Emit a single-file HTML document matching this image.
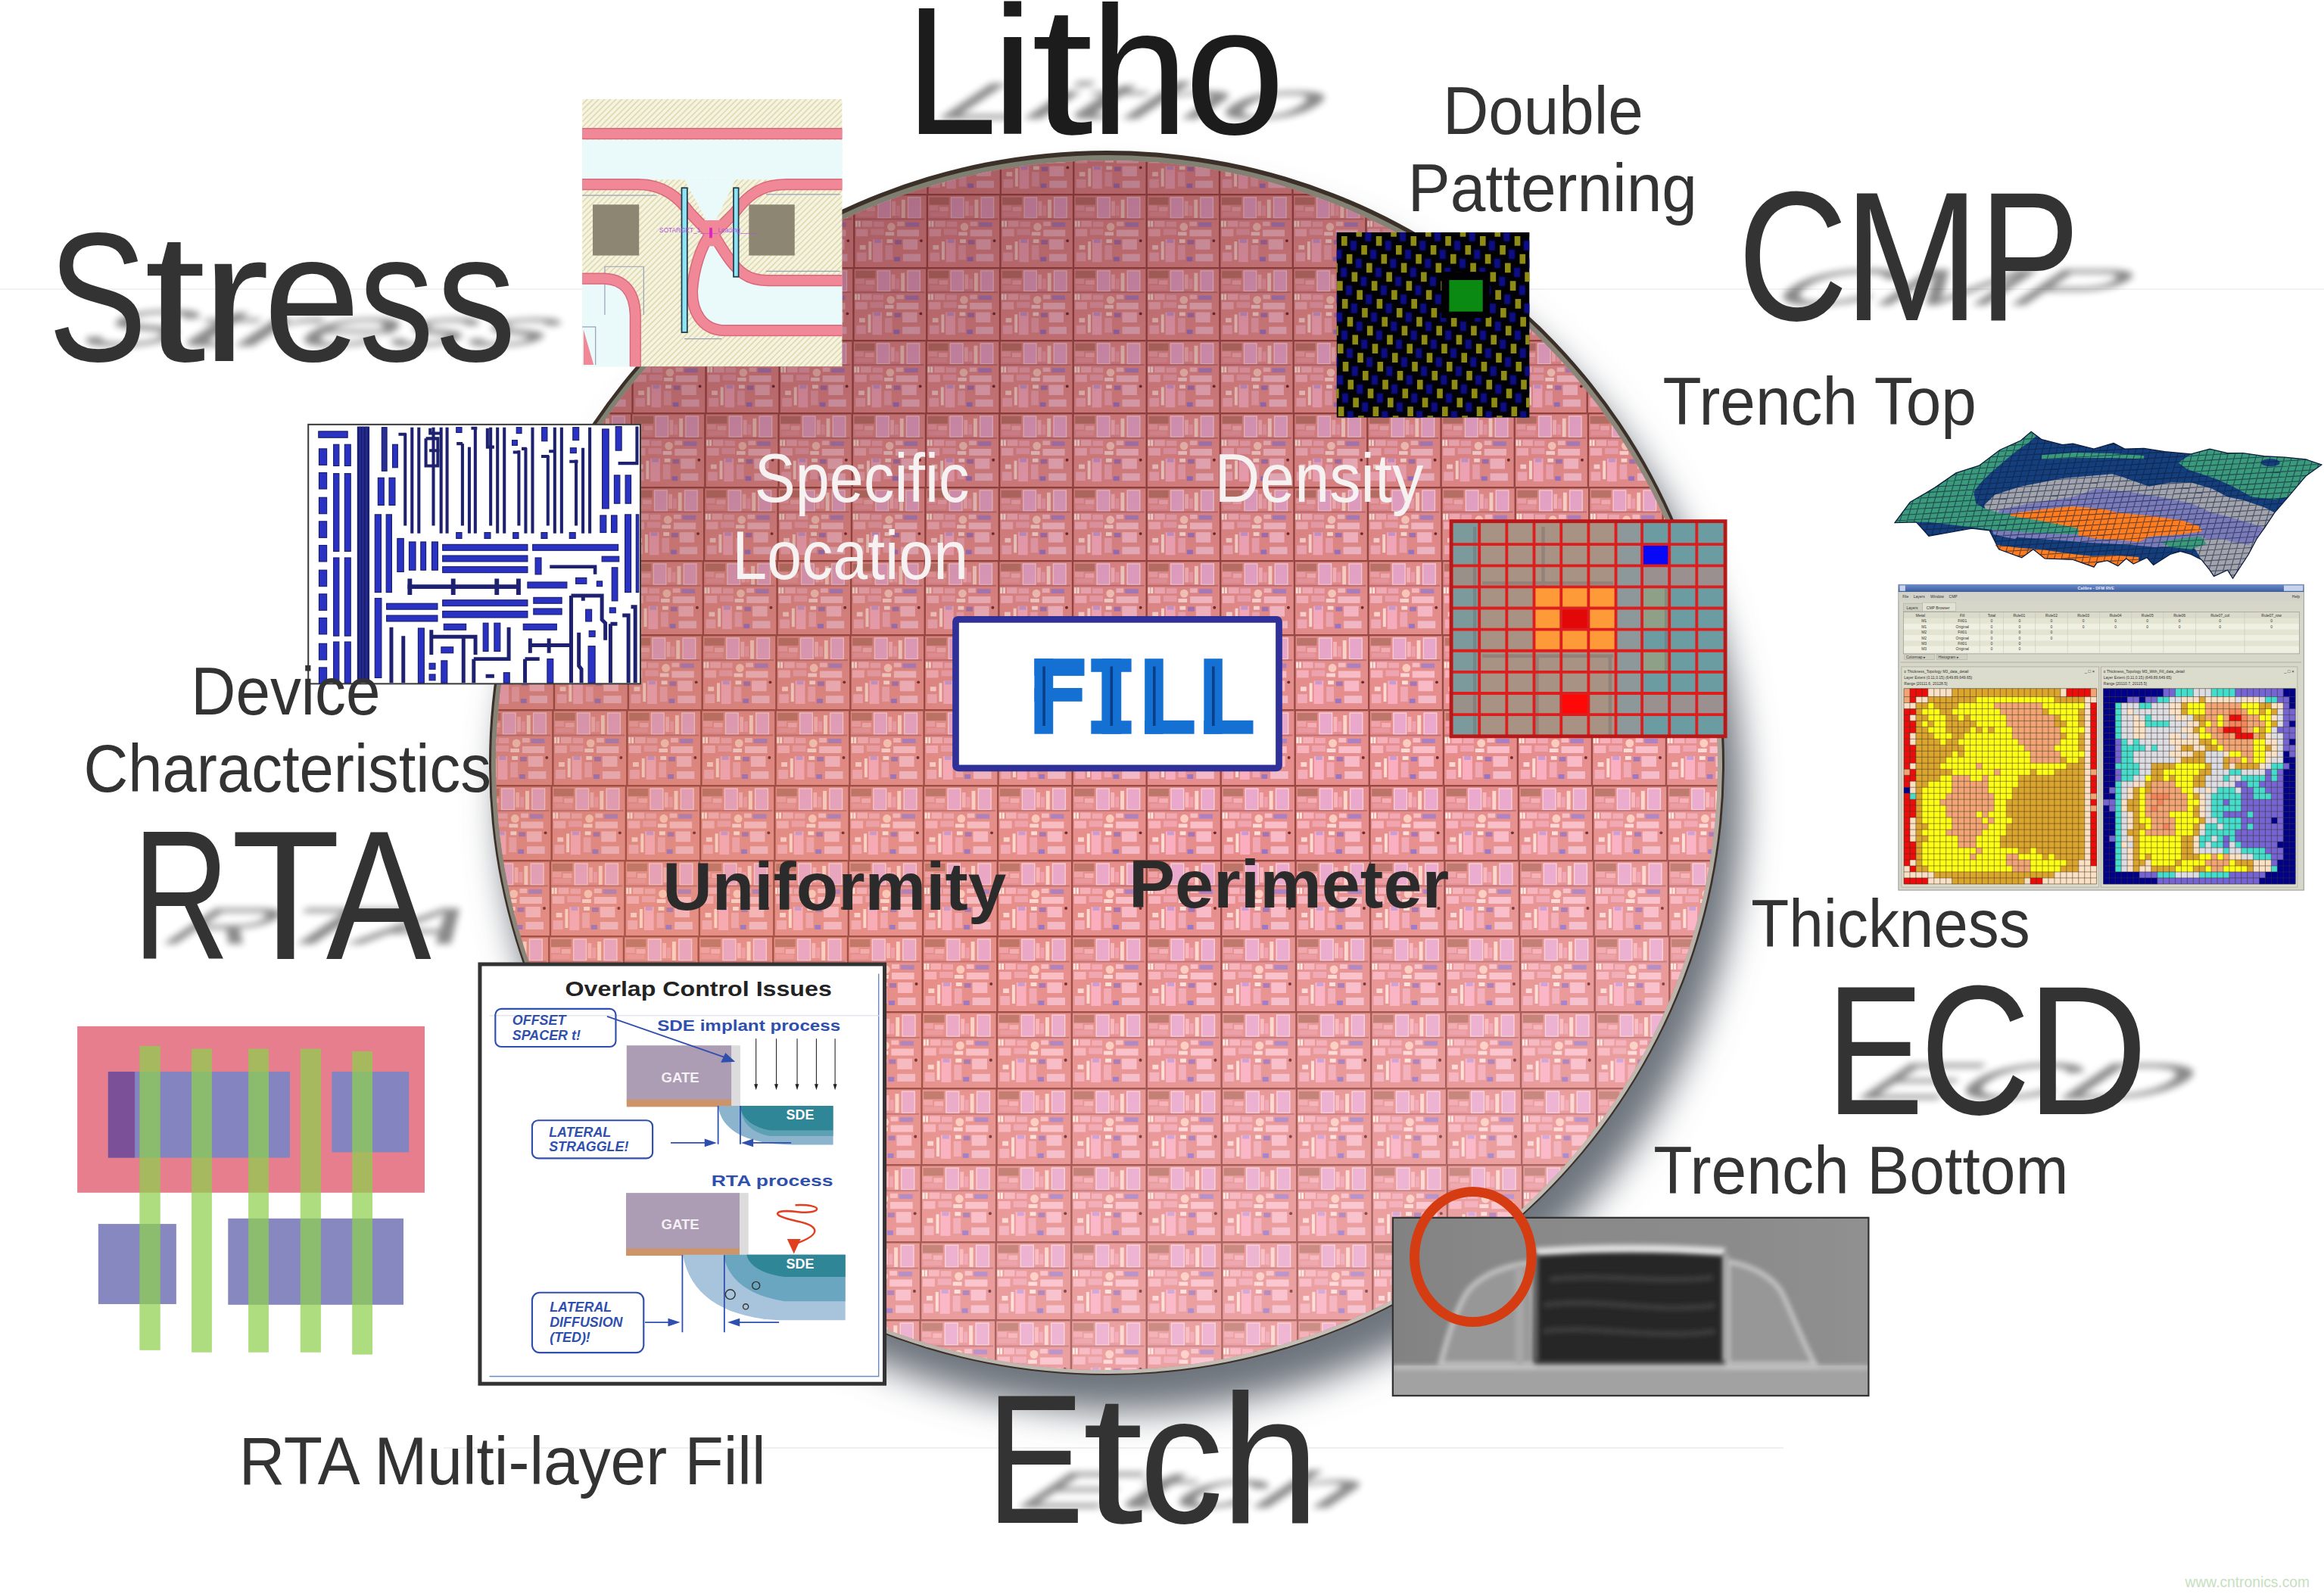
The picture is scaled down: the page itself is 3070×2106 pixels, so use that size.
<!DOCTYPE html><html><head><meta charset="utf-8"><title>Fill</title><style>html,body{margin:0;padding:0;background:#fff;overflow:hidden}svg{display:block}text{font-family:"Liberation Sans",sans-serif}</style></head><body><svg width="3070" height="2106" viewBox="0 0 3070 2106" font-family="'Liberation Sans', sans-serif"><defs><filter id="wsh" x="-20%" y="-20%" width="140%" height="140%"><feGaussianBlur stdDeviation="24"/></filter>
<clipPath id="wclip"><ellipse cx="1462" cy="1011" rx="807" ry="799"/></clipPath>
<linearGradient id="bev" x1="0.25" y1="0" x2="0.75" y2="1"><stop offset="0" stop-color="#7c7e70"/><stop offset="0.5" stop-color="#8e887c"/><stop offset="0.8" stop-color="#b8b2aa"/><stop offset="1" stop-color="#c8c4bc"/></linearGradient>
<g id="die">
<rect width="100" height="100" fill="#e68d8c"/>
<rect x="4" y="5" width="27" height="10" fill="#bc7468"/>
<rect x="4" y="16" width="12" height="7" fill="#f0a2aa"/><rect x="18" y="18" width="12" height="6" fill="#f4aeb4"/>
<rect x="5" y="25" width="24" height="6" fill="#ea98a0"/>
<rect x="34" y="5" width="17" height="28" fill="#eaa8cc" stroke="#fad0d8" stroke-width="1.4"/>
<rect x="53" y="10" width="5" height="20" fill="#f8b4bc"/><rect x="59" y="16" width="5" height="14" fill="#f0a0b0"/>
<rect x="66" y="8" width="5" height="25" fill="#fdd6cc"/>
<rect x="75" y="5" width="17" height="28" fill="#eaa8cc" stroke="#fad0d8" stroke-width="1.4"/>
<rect x="2" y="33.5" width="96" height="2" fill="#c06e74"/>
<rect x="3" y="37" width="3" height="8" fill="#fee8e0"/><rect x="7" y="37" width="3" height="8" fill="#fee8e0"/>
<rect x="12" y="37" width="14" height="8" fill="#f6b0ba"/>
<rect x="28" y="38" width="14" height="7" fill="#f2a8b4"/>
<circle cx="52" cy="45" r="5.5" fill="#fdccc0"/>
<rect x="60" y="38" width="10" height="6" fill="#f8bcc4"/>
<rect x="72" y="39" width="18" height="6" fill="#aa80c2"/>
<rect x="4" y="48" width="16" height="10" fill="#f8b2bc"/>
<rect x="24" y="48" width="18" height="8" fill="#f0a4b0"/>
<rect x="44" y="52" width="12" height="5" fill="#fed8d4"/>
<rect x="60" y="49" width="30" height="9" fill="#fabec8"/>
<rect x="27" y="62" width="13" height="31" fill="#faaec0"/>
<rect x="29" y="62" width="9" height="5" fill="#c89ad4"/>
<rect x="21" y="65" width="4" height="25" fill="#fedcd4"/>
<rect x="57" y="63" width="9" height="6" fill="#a474b4"/>
<rect x="68" y="62" width="20" height="14" fill="#f8bac6"/>
<rect x="5" y="80" width="13" height="12" fill="#f4acb8"/>
<rect x="44" y="70" width="10" height="20" fill="#f2a8b4"/>
<rect x="56" y="86" width="8" height="6" fill="#9874c6"/>
<rect x="68" y="82" width="24" height="10" fill="#f4bac8"/>
<rect x="9" y="70" width="8" height="6" fill="#fed6d2"/>
<rect x="46" y="62" width="8" height="5" fill="#fee0da"/>
<circle cx="93" cy="64" r="2" fill="#6a2a2a"/>
<rect x="0" y="0" width="100" height="2.4" fill="#98463f"/>
<rect x="0" y="0" width="2.4" height="100" fill="#98463f"/>
</g>
<linearGradient id="wgrad" x1="0.3" y1="0" x2="0.7" y2="1"><stop offset="0" stop-color="#5a1e2a" stop-opacity="0.46"/><stop offset="0.4" stop-color="#5a1e2a" stop-opacity="0.08"/><stop offset="0.6" stop-color="#ffffff" stop-opacity="0"/><stop offset="1" stop-color="#ffe4ec" stop-opacity="0.26"/></linearGradient>
<radialGradient id="wgrad2" cx="0.12" cy="0.6" r="0.45"><stop offset="0" stop-color="#f09858" stop-opacity="0.16"/><stop offset="1" stop-color="#f09858" stop-opacity="0"/></radialGradient>
<filter id="tb" x="-10%" y="-50%" width="120%" height="200%"><feGaussianBlur stdDeviation="5"/></filter>
<pattern id="hatch" patternUnits="userSpaceOnUse" width="22" height="22" patternTransform="rotate(45)"><rect width="22" height="22" fill="#f6f4e0"/><rect width="7" height="22" fill="#dedab0"/></pattern>
<filter id="dpb" filterUnits="userSpaceOnUse" x="0" y="0" width="1800" height="1700"><feGaussianBlur stdDeviation="6"/></filter>
<filter id="semb" filterUnits="userSpaceOnUse" x="0" y="100" width="2400" height="1000"><feGaussianBlur stdDeviation="12"/></filter>
<linearGradient id="semgrad" x1="0" y1="0" x2="1" y2="0"><stop offset="0" stop-color="#7a7a7a" stop-opacity="0.5"/><stop offset="0.5" stop-color="#8a8a8a" stop-opacity="0"/><stop offset="1" stop-color="#9a9a9a" stop-opacity="0.4"/></linearGradient></defs><rect width="3070" height="2106" fill="#ffffff"/>
<rect x="0" y="381" width="3070" height="2" fill="#f2f2f2"/>
<rect x="586" y="1912" width="1770" height="2" fill="#f0f0f0"/>
<ellipse cx="1482" cy="1056" rx="820" ry="809" fill="#6e757d" filter="url(#wsh)"/>
<ellipse cx="1462" cy="1008" rx="816" ry="809" fill="#3b3129"/>
<ellipse cx="1462" cy="1010" rx="813" ry="805" fill="url(#bev)"/>
<g clip-path="url(#wclip)">
<rect x="600" y="150" width="1720" height="1720" fill="#cc8088"/>
<use href="#die" transform="translate(549.4 160.0) scale(0.9641 0.9600)"/>
<use href="#die" transform="translate(645.8 160.0) scale(0.9641 0.9600)"/>
<use href="#die" transform="translate(742.2 160.0) scale(0.9641 0.9600)"/>
<use href="#die" transform="translate(838.7 160.0) scale(0.9641 0.9600)"/>
<use href="#die" transform="translate(935.1 160.0) scale(0.9641 0.9600)"/>
<use href="#die" transform="translate(1031.5 160.0) scale(0.9641 0.9600)"/>
<use href="#die" transform="translate(1127.9 160.0) scale(0.9641 0.9600)"/>
<use href="#die" transform="translate(1224.3 160.0) scale(0.9641 0.9600)"/>
<use href="#die" transform="translate(1320.7 160.0) scale(0.9641 0.9600)"/>
<use href="#die" transform="translate(1417.1 160.0) scale(0.9641 0.9600)"/>
<use href="#die" transform="translate(1513.5 160.0) scale(0.9641 0.9600)"/>
<use href="#die" transform="translate(1609.9 160.0) scale(0.9641 0.9600)"/>
<use href="#die" transform="translate(1706.3 160.0) scale(0.9641 0.9600)"/>
<use href="#die" transform="translate(1802.7 160.0) scale(0.9641 0.9600)"/>
<use href="#die" transform="translate(1899.1 160.0) scale(0.9641 0.9600)"/>
<use href="#die" transform="translate(1995.5 160.0) scale(0.9641 0.9600)"/>
<use href="#die" transform="translate(2091.9 160.0) scale(0.9641 0.9600)"/>
<use href="#die" transform="translate(2188.3 160.0) scale(0.9641 0.9600)"/>
<use href="#die" transform="translate(547.4 256.0) scale(0.9661 0.9700)"/>
<use href="#die" transform="translate(644.0 256.0) scale(0.9661 0.9700)"/>
<use href="#die" transform="translate(740.6 256.0) scale(0.9661 0.9700)"/>
<use href="#die" transform="translate(837.2 256.0) scale(0.9661 0.9700)"/>
<use href="#die" transform="translate(933.8 256.0) scale(0.9661 0.9700)"/>
<use href="#die" transform="translate(1030.5 256.0) scale(0.9661 0.9700)"/>
<use href="#die" transform="translate(1127.1 256.0) scale(0.9661 0.9700)"/>
<use href="#die" transform="translate(1223.7 256.0) scale(0.9661 0.9700)"/>
<use href="#die" transform="translate(1320.3 256.0) scale(0.9661 0.9700)"/>
<use href="#die" transform="translate(1416.9 256.0) scale(0.9661 0.9700)"/>
<use href="#die" transform="translate(1513.5 256.0) scale(0.9661 0.9700)"/>
<use href="#die" transform="translate(1610.1 256.0) scale(0.9661 0.9700)"/>
<use href="#die" transform="translate(1706.7 256.0) scale(0.9661 0.9700)"/>
<use href="#die" transform="translate(1803.3 256.0) scale(0.9661 0.9700)"/>
<use href="#die" transform="translate(1899.9 256.0) scale(0.9661 0.9700)"/>
<use href="#die" transform="translate(1996.5 256.0) scale(0.9661 0.9700)"/>
<use href="#die" transform="translate(2093.2 256.0) scale(0.9661 0.9700)"/>
<use href="#die" transform="translate(2189.8 256.0) scale(0.9661 0.9700)"/>
<use href="#die" transform="translate(545.4 353.0) scale(0.9681 0.9600)"/>
<use href="#die" transform="translate(642.2 353.0) scale(0.9681 0.9600)"/>
<use href="#die" transform="translate(739.0 353.0) scale(0.9681 0.9600)"/>
<use href="#die" transform="translate(835.8 353.0) scale(0.9681 0.9600)"/>
<use href="#die" transform="translate(932.6 353.0) scale(0.9681 0.9600)"/>
<use href="#die" transform="translate(1029.4 353.0) scale(0.9681 0.9600)"/>
<use href="#die" transform="translate(1126.3 353.0) scale(0.9681 0.9600)"/>
<use href="#die" transform="translate(1223.1 353.0) scale(0.9681 0.9600)"/>
<use href="#die" transform="translate(1319.9 353.0) scale(0.9681 0.9600)"/>
<use href="#die" transform="translate(1416.7 353.0) scale(0.9681 0.9600)"/>
<use href="#die" transform="translate(1513.5 353.0) scale(0.9681 0.9600)"/>
<use href="#die" transform="translate(1610.3 353.0) scale(0.9681 0.9600)"/>
<use href="#die" transform="translate(1707.1 353.0) scale(0.9681 0.9600)"/>
<use href="#die" transform="translate(1803.9 353.0) scale(0.9681 0.9600)"/>
<use href="#die" transform="translate(1900.7 353.0) scale(0.9681 0.9600)"/>
<use href="#die" transform="translate(1997.6 353.0) scale(0.9681 0.9600)"/>
<use href="#die" transform="translate(2094.4 353.0) scale(0.9681 0.9600)"/>
<use href="#die" transform="translate(2191.2 353.0) scale(0.9681 0.9600)"/>
<use href="#die" transform="translate(640.4 449.0) scale(0.9701 0.9600)"/>
<use href="#die" transform="translate(737.4 449.0) scale(0.9701 0.9600)"/>
<use href="#die" transform="translate(834.4 449.0) scale(0.9701 0.9600)"/>
<use href="#die" transform="translate(931.4 449.0) scale(0.9701 0.9600)"/>
<use href="#die" transform="translate(1028.4 449.0) scale(0.9701 0.9600)"/>
<use href="#die" transform="translate(1125.4 449.0) scale(0.9701 0.9600)"/>
<use href="#die" transform="translate(1222.5 449.0) scale(0.9701 0.9600)"/>
<use href="#die" transform="translate(1319.5 449.0) scale(0.9701 0.9600)"/>
<use href="#die" transform="translate(1416.5 449.0) scale(0.9701 0.9600)"/>
<use href="#die" transform="translate(1513.5 449.0) scale(0.9701 0.9600)"/>
<use href="#die" transform="translate(1610.5 449.0) scale(0.9701 0.9600)"/>
<use href="#die" transform="translate(1707.5 449.0) scale(0.9701 0.9600)"/>
<use href="#die" transform="translate(1804.5 449.0) scale(0.9701 0.9600)"/>
<use href="#die" transform="translate(1901.6 449.0) scale(0.9701 0.9600)"/>
<use href="#die" transform="translate(1998.6 449.0) scale(0.9701 0.9600)"/>
<use href="#die" transform="translate(2095.6 449.0) scale(0.9701 0.9600)"/>
<use href="#die" transform="translate(2192.6 449.0) scale(0.9701 0.9600)"/>
<use href="#die" transform="translate(638.5 545.0) scale(0.9722 0.9800)"/>
<use href="#die" transform="translate(735.8 545.0) scale(0.9722 0.9800)"/>
<use href="#die" transform="translate(833.0 545.0) scale(0.9722 0.9800)"/>
<use href="#die" transform="translate(930.2 545.0) scale(0.9722 0.9800)"/>
<use href="#die" transform="translate(1027.4 545.0) scale(0.9722 0.9800)"/>
<use href="#die" transform="translate(1124.6 545.0) scale(0.9722 0.9800)"/>
<use href="#die" transform="translate(1221.8 545.0) scale(0.9722 0.9800)"/>
<use href="#die" transform="translate(1319.1 545.0) scale(0.9722 0.9800)"/>
<use href="#die" transform="translate(1416.3 545.0) scale(0.9722 0.9800)"/>
<use href="#die" transform="translate(1513.5 545.0) scale(0.9722 0.9800)"/>
<use href="#die" transform="translate(1610.7 545.0) scale(0.9722 0.9800)"/>
<use href="#die" transform="translate(1707.9 545.0) scale(0.9722 0.9800)"/>
<use href="#die" transform="translate(1805.2 545.0) scale(0.9722 0.9800)"/>
<use href="#die" transform="translate(1902.4 545.0) scale(0.9722 0.9800)"/>
<use href="#die" transform="translate(1999.6 545.0) scale(0.9722 0.9800)"/>
<use href="#die" transform="translate(2096.8 545.0) scale(0.9722 0.9800)"/>
<use href="#die" transform="translate(2194.0 545.0) scale(0.9722 0.9800)"/>
<use href="#die" transform="translate(636.7 643.0) scale(0.9742 0.9700)"/>
<use href="#die" transform="translate(734.1 643.0) scale(0.9742 0.9700)"/>
<use href="#die" transform="translate(831.5 643.0) scale(0.9742 0.9700)"/>
<use href="#die" transform="translate(929.0 643.0) scale(0.9742 0.9700)"/>
<use href="#die" transform="translate(1026.4 643.0) scale(0.9742 0.9700)"/>
<use href="#die" transform="translate(1123.8 643.0) scale(0.9742 0.9700)"/>
<use href="#die" transform="translate(1221.2 643.0) scale(0.9742 0.9700)"/>
<use href="#die" transform="translate(1318.7 643.0) scale(0.9742 0.9700)"/>
<use href="#die" transform="translate(1416.1 643.0) scale(0.9742 0.9700)"/>
<use href="#die" transform="translate(1513.5 643.0) scale(0.9742 0.9700)"/>
<use href="#die" transform="translate(1610.9 643.0) scale(0.9742 0.9700)"/>
<use href="#die" transform="translate(1708.3 643.0) scale(0.9742 0.9700)"/>
<use href="#die" transform="translate(1805.8 643.0) scale(0.9742 0.9700)"/>
<use href="#die" transform="translate(1903.2 643.0) scale(0.9742 0.9700)"/>
<use href="#die" transform="translate(2000.6 643.0) scale(0.9742 0.9700)"/>
<use href="#die" transform="translate(2098.0 643.0) scale(0.9742 0.9700)"/>
<use href="#die" transform="translate(2195.5 643.0) scale(0.9742 0.9700)"/>
<use href="#die" transform="translate(634.9 740.0) scale(0.9763 0.9800)"/>
<use href="#die" transform="translate(732.5 740.0) scale(0.9763 0.9800)"/>
<use href="#die" transform="translate(830.1 740.0) scale(0.9763 0.9800)"/>
<use href="#die" transform="translate(927.7 740.0) scale(0.9763 0.9800)"/>
<use href="#die" transform="translate(1025.4 740.0) scale(0.9763 0.9800)"/>
<use href="#die" transform="translate(1123.0 740.0) scale(0.9763 0.9800)"/>
<use href="#die" transform="translate(1220.6 740.0) scale(0.9763 0.9800)"/>
<use href="#die" transform="translate(1318.2 740.0) scale(0.9763 0.9800)"/>
<use href="#die" transform="translate(1415.9 740.0) scale(0.9763 0.9800)"/>
<use href="#die" transform="translate(1513.5 740.0) scale(0.9763 0.9800)"/>
<use href="#die" transform="translate(1611.1 740.0) scale(0.9763 0.9800)"/>
<use href="#die" transform="translate(1708.8 740.0) scale(0.9763 0.9800)"/>
<use href="#die" transform="translate(1806.4 740.0) scale(0.9763 0.9800)"/>
<use href="#die" transform="translate(1904.0 740.0) scale(0.9763 0.9800)"/>
<use href="#die" transform="translate(2001.6 740.0) scale(0.9763 0.9800)"/>
<use href="#die" transform="translate(2099.3 740.0) scale(0.9763 0.9800)"/>
<use href="#die" transform="translate(2196.9 740.0) scale(0.9763 0.9800)"/>
<use href="#die" transform="translate(633.0 838.0) scale(0.9783 0.9900)"/>
<use href="#die" transform="translate(730.8 838.0) scale(0.9783 0.9900)"/>
<use href="#die" transform="translate(828.7 838.0) scale(0.9783 0.9900)"/>
<use href="#die" transform="translate(926.5 838.0) scale(0.9783 0.9900)"/>
<use href="#die" transform="translate(1024.3 838.0) scale(0.9783 0.9900)"/>
<use href="#die" transform="translate(1122.2 838.0) scale(0.9783 0.9900)"/>
<use href="#die" transform="translate(1220.0 838.0) scale(0.9783 0.9900)"/>
<use href="#die" transform="translate(1317.8 838.0) scale(0.9783 0.9900)"/>
<use href="#die" transform="translate(1415.7 838.0) scale(0.9783 0.9900)"/>
<use href="#die" transform="translate(1513.5 838.0) scale(0.9783 0.9900)"/>
<use href="#die" transform="translate(1611.3 838.0) scale(0.9783 0.9900)"/>
<use href="#die" transform="translate(1709.2 838.0) scale(0.9783 0.9900)"/>
<use href="#die" transform="translate(1807.0 838.0) scale(0.9783 0.9900)"/>
<use href="#die" transform="translate(1904.8 838.0) scale(0.9783 0.9900)"/>
<use href="#die" transform="translate(2002.7 838.0) scale(0.9783 0.9900)"/>
<use href="#die" transform="translate(2100.5 838.0) scale(0.9783 0.9900)"/>
<use href="#die" transform="translate(2198.3 838.0) scale(0.9783 0.9900)"/>
<use href="#die" transform="translate(631.1 937.0) scale(0.9804 1.0000)"/>
<use href="#die" transform="translate(729.2 937.0) scale(0.9804 1.0000)"/>
<use href="#die" transform="translate(827.2 937.0) scale(0.9804 1.0000)"/>
<use href="#die" transform="translate(925.2 937.0) scale(0.9804 1.0000)"/>
<use href="#die" transform="translate(1023.3 937.0) scale(0.9804 1.0000)"/>
<use href="#die" transform="translate(1121.3 937.0) scale(0.9804 1.0000)"/>
<use href="#die" transform="translate(1219.4 937.0) scale(0.9804 1.0000)"/>
<use href="#die" transform="translate(1317.4 937.0) scale(0.9804 1.0000)"/>
<use href="#die" transform="translate(1415.5 937.0) scale(0.9804 1.0000)"/>
<use href="#die" transform="translate(1513.5 937.0) scale(0.9804 1.0000)"/>
<use href="#die" transform="translate(1611.5 937.0) scale(0.9804 1.0000)"/>
<use href="#die" transform="translate(1709.6 937.0) scale(0.9804 1.0000)"/>
<use href="#die" transform="translate(1807.6 937.0) scale(0.9804 1.0000)"/>
<use href="#die" transform="translate(1905.7 937.0) scale(0.9804 1.0000)"/>
<use href="#die" transform="translate(2003.7 937.0) scale(0.9804 1.0000)"/>
<use href="#die" transform="translate(2101.8 937.0) scale(0.9804 1.0000)"/>
<use href="#die" transform="translate(2199.8 937.0) scale(0.9804 1.0000)"/>
<use href="#die" transform="translate(629.2 1037.0) scale(0.9825 0.9900)"/>
<use href="#die" transform="translate(727.5 1037.0) scale(0.9825 0.9900)"/>
<use href="#die" transform="translate(825.7 1037.0) scale(0.9825 0.9900)"/>
<use href="#die" transform="translate(924.0 1037.0) scale(0.9825 0.9900)"/>
<use href="#die" transform="translate(1022.2 1037.0) scale(0.9825 0.9900)"/>
<use href="#die" transform="translate(1120.5 1037.0) scale(0.9825 0.9900)"/>
<use href="#die" transform="translate(1218.7 1037.0) scale(0.9825 0.9900)"/>
<use href="#die" transform="translate(1317.0 1037.0) scale(0.9825 0.9900)"/>
<use href="#die" transform="translate(1415.2 1037.0) scale(0.9825 0.9900)"/>
<use href="#die" transform="translate(1513.5 1037.0) scale(0.9825 0.9900)"/>
<use href="#die" transform="translate(1611.8 1037.0) scale(0.9825 0.9900)"/>
<use href="#die" transform="translate(1710.0 1037.0) scale(0.9825 0.9900)"/>
<use href="#die" transform="translate(1808.3 1037.0) scale(0.9825 0.9900)"/>
<use href="#die" transform="translate(1906.5 1037.0) scale(0.9825 0.9900)"/>
<use href="#die" transform="translate(2004.8 1037.0) scale(0.9825 0.9900)"/>
<use href="#die" transform="translate(2103.0 1037.0) scale(0.9825 0.9900)"/>
<use href="#die" transform="translate(2201.3 1037.0) scale(0.9825 0.9900)"/>
<use href="#die" transform="translate(627.4 1136.0) scale(0.9846 1.0000)"/>
<use href="#die" transform="translate(725.8 1136.0) scale(0.9846 1.0000)"/>
<use href="#die" transform="translate(824.3 1136.0) scale(0.9846 1.0000)"/>
<use href="#die" transform="translate(922.7 1136.0) scale(0.9846 1.0000)"/>
<use href="#die" transform="translate(1021.2 1136.0) scale(0.9846 1.0000)"/>
<use href="#die" transform="translate(1119.7 1136.0) scale(0.9846 1.0000)"/>
<use href="#die" transform="translate(1218.1 1136.0) scale(0.9846 1.0000)"/>
<use href="#die" transform="translate(1316.6 1136.0) scale(0.9846 1.0000)"/>
<use href="#die" transform="translate(1415.0 1136.0) scale(0.9846 1.0000)"/>
<use href="#die" transform="translate(1513.5 1136.0) scale(0.9846 1.0000)"/>
<use href="#die" transform="translate(1612.0 1136.0) scale(0.9846 1.0000)"/>
<use href="#die" transform="translate(1710.4 1136.0) scale(0.9846 1.0000)"/>
<use href="#die" transform="translate(1808.9 1136.0) scale(0.9846 1.0000)"/>
<use href="#die" transform="translate(1907.3 1136.0) scale(0.9846 1.0000)"/>
<use href="#die" transform="translate(2005.8 1136.0) scale(0.9846 1.0000)"/>
<use href="#die" transform="translate(2104.3 1136.0) scale(0.9846 1.0000)"/>
<use href="#die" transform="translate(2202.7 1136.0) scale(0.9846 1.0000)"/>
<use href="#die" transform="translate(625.5 1236.0) scale(0.9867 1.0000)"/>
<use href="#die" transform="translate(724.1 1236.0) scale(0.9867 1.0000)"/>
<use href="#die" transform="translate(822.8 1236.0) scale(0.9867 1.0000)"/>
<use href="#die" transform="translate(921.5 1236.0) scale(0.9867 1.0000)"/>
<use href="#die" transform="translate(1020.1 1236.0) scale(0.9867 1.0000)"/>
<use href="#die" transform="translate(1118.8 1236.0) scale(0.9867 1.0000)"/>
<use href="#die" transform="translate(1217.5 1236.0) scale(0.9867 1.0000)"/>
<use href="#die" transform="translate(1316.2 1236.0) scale(0.9867 1.0000)"/>
<use href="#die" transform="translate(1414.8 1236.0) scale(0.9867 1.0000)"/>
<use href="#die" transform="translate(1513.5 1236.0) scale(0.9867 1.0000)"/>
<use href="#die" transform="translate(1612.2 1236.0) scale(0.9867 1.0000)"/>
<use href="#die" transform="translate(1710.8 1236.0) scale(0.9867 1.0000)"/>
<use href="#die" transform="translate(1809.5 1236.0) scale(0.9867 1.0000)"/>
<use href="#die" transform="translate(1908.2 1236.0) scale(0.9867 1.0000)"/>
<use href="#die" transform="translate(2006.9 1236.0) scale(0.9867 1.0000)"/>
<use href="#die" transform="translate(2105.5 1236.0) scale(0.9867 1.0000)"/>
<use href="#die" transform="translate(2204.2 1236.0) scale(0.9867 1.0000)"/>
<use href="#die" transform="translate(623.6 1336.0) scale(0.9888 1.0100)"/>
<use href="#die" transform="translate(722.4 1336.0) scale(0.9888 1.0100)"/>
<use href="#die" transform="translate(821.3 1336.0) scale(0.9888 1.0100)"/>
<use href="#die" transform="translate(920.2 1336.0) scale(0.9888 1.0100)"/>
<use href="#die" transform="translate(1019.1 1336.0) scale(0.9888 1.0100)"/>
<use href="#die" transform="translate(1118.0 1336.0) scale(0.9888 1.0100)"/>
<use href="#die" transform="translate(1216.9 1336.0) scale(0.9888 1.0100)"/>
<use href="#die" transform="translate(1315.7 1336.0) scale(0.9888 1.0100)"/>
<use href="#die" transform="translate(1414.6 1336.0) scale(0.9888 1.0100)"/>
<use href="#die" transform="translate(1513.5 1336.0) scale(0.9888 1.0100)"/>
<use href="#die" transform="translate(1612.4 1336.0) scale(0.9888 1.0100)"/>
<use href="#die" transform="translate(1711.3 1336.0) scale(0.9888 1.0100)"/>
<use href="#die" transform="translate(1810.1 1336.0) scale(0.9888 1.0100)"/>
<use href="#die" transform="translate(1909.0 1336.0) scale(0.9888 1.0100)"/>
<use href="#die" transform="translate(2007.9 1336.0) scale(0.9888 1.0100)"/>
<use href="#die" transform="translate(2106.8 1336.0) scale(0.9888 1.0100)"/>
<use href="#die" transform="translate(2205.7 1336.0) scale(0.9888 1.0100)"/>
<use href="#die" transform="translate(621.7 1437.0) scale(0.9909 1.0100)"/>
<use href="#die" transform="translate(720.8 1437.0) scale(0.9909 1.0100)"/>
<use href="#die" transform="translate(819.8 1437.0) scale(0.9909 1.0100)"/>
<use href="#die" transform="translate(918.9 1437.0) scale(0.9909 1.0100)"/>
<use href="#die" transform="translate(1018.0 1437.0) scale(0.9909 1.0100)"/>
<use href="#die" transform="translate(1117.1 1437.0) scale(0.9909 1.0100)"/>
<use href="#die" transform="translate(1216.2 1437.0) scale(0.9909 1.0100)"/>
<use href="#die" transform="translate(1315.3 1437.0) scale(0.9909 1.0100)"/>
<use href="#die" transform="translate(1414.4 1437.0) scale(0.9909 1.0100)"/>
<use href="#die" transform="translate(1513.5 1437.0) scale(0.9909 1.0100)"/>
<use href="#die" transform="translate(1612.6 1437.0) scale(0.9909 1.0100)"/>
<use href="#die" transform="translate(1711.7 1437.0) scale(0.9909 1.0100)"/>
<use href="#die" transform="translate(1810.8 1437.0) scale(0.9909 1.0100)"/>
<use href="#die" transform="translate(1909.9 1437.0) scale(0.9909 1.0100)"/>
<use href="#die" transform="translate(2009.0 1437.0) scale(0.9909 1.0100)"/>
<use href="#die" transform="translate(2108.1 1437.0) scale(0.9909 1.0100)"/>
<use href="#die" transform="translate(2207.2 1437.0) scale(0.9909 1.0100)"/>
<use href="#die" transform="translate(619.7 1538.0) scale(0.9931 1.0200)"/>
<use href="#die" transform="translate(719.0 1538.0) scale(0.9931 1.0200)"/>
<use href="#die" transform="translate(818.4 1538.0) scale(0.9931 1.0200)"/>
<use href="#die" transform="translate(917.7 1538.0) scale(0.9931 1.0200)"/>
<use href="#die" transform="translate(1017.0 1538.0) scale(0.9931 1.0200)"/>
<use href="#die" transform="translate(1116.3 1538.0) scale(0.9931 1.0200)"/>
<use href="#die" transform="translate(1215.6 1538.0) scale(0.9931 1.0200)"/>
<use href="#die" transform="translate(1314.9 1538.0) scale(0.9931 1.0200)"/>
<use href="#die" transform="translate(1414.2 1538.0) scale(0.9931 1.0200)"/>
<use href="#die" transform="translate(1513.5 1538.0) scale(0.9931 1.0200)"/>
<use href="#die" transform="translate(1612.8 1538.0) scale(0.9931 1.0200)"/>
<use href="#die" transform="translate(1712.1 1538.0) scale(0.9931 1.0200)"/>
<use href="#die" transform="translate(1811.4 1538.0) scale(0.9931 1.0200)"/>
<use href="#die" transform="translate(1910.7 1538.0) scale(0.9931 1.0200)"/>
<use href="#die" transform="translate(2010.0 1538.0) scale(0.9931 1.0200)"/>
<use href="#die" transform="translate(2109.3 1538.0) scale(0.9931 1.0200)"/>
<use href="#die" transform="translate(2208.6 1538.0) scale(0.9931 1.0200)"/>
<use href="#die" transform="translate(617.8 1640.0) scale(0.9952 1.0300)"/>
<use href="#die" transform="translate(717.3 1640.0) scale(0.9952 1.0300)"/>
<use href="#die" transform="translate(816.8 1640.0) scale(0.9952 1.0300)"/>
<use href="#die" transform="translate(916.4 1640.0) scale(0.9952 1.0300)"/>
<use href="#die" transform="translate(1015.9 1640.0) scale(0.9952 1.0300)"/>
<use href="#die" transform="translate(1115.4 1640.0) scale(0.9952 1.0300)"/>
<use href="#die" transform="translate(1214.9 1640.0) scale(0.9952 1.0300)"/>
<use href="#die" transform="translate(1314.5 1640.0) scale(0.9952 1.0300)"/>
<use href="#die" transform="translate(1414.0 1640.0) scale(0.9952 1.0300)"/>
<use href="#die" transform="translate(1513.5 1640.0) scale(0.9952 1.0300)"/>
<use href="#die" transform="translate(1613.0 1640.0) scale(0.9952 1.0300)"/>
<use href="#die" transform="translate(1712.5 1640.0) scale(0.9952 1.0300)"/>
<use href="#die" transform="translate(1812.1 1640.0) scale(0.9952 1.0300)"/>
<use href="#die" transform="translate(1911.6 1640.0) scale(0.9952 1.0300)"/>
<use href="#die" transform="translate(2011.1 1640.0) scale(0.9952 1.0300)"/>
<use href="#die" transform="translate(2110.6 1640.0) scale(0.9952 1.0300)"/>
<use href="#die" transform="translate(2210.2 1640.0) scale(0.9952 1.0300)"/>
<use href="#die" transform="translate(615.9 1743.0) scale(0.9974 1.0300)"/>
<use href="#die" transform="translate(715.6 1743.0) scale(0.9974 1.0300)"/>
<use href="#die" transform="translate(815.3 1743.0) scale(0.9974 1.0300)"/>
<use href="#die" transform="translate(915.1 1743.0) scale(0.9974 1.0300)"/>
<use href="#die" transform="translate(1014.8 1743.0) scale(0.9974 1.0300)"/>
<use href="#die" transform="translate(1114.5 1743.0) scale(0.9974 1.0300)"/>
<use href="#die" transform="translate(1214.3 1743.0) scale(0.9974 1.0300)"/>
<use href="#die" transform="translate(1314.0 1743.0) scale(0.9974 1.0300)"/>
<use href="#die" transform="translate(1413.8 1743.0) scale(0.9974 1.0300)"/>
<use href="#die" transform="translate(1513.5 1743.0) scale(0.9974 1.0300)"/>
<use href="#die" transform="translate(1613.2 1743.0) scale(0.9974 1.0300)"/>
<use href="#die" transform="translate(1713.0 1743.0) scale(0.9974 1.0300)"/>
<use href="#die" transform="translate(1812.7 1743.0) scale(0.9974 1.0300)"/>
<use href="#die" transform="translate(1912.5 1743.0) scale(0.9974 1.0300)"/>
<use href="#die" transform="translate(2012.2 1743.0) scale(0.9974 1.0300)"/>
<use href="#die" transform="translate(2111.9 1743.0) scale(0.9974 1.0300)"/>
<use href="#die" transform="translate(2211.7 1743.0) scale(0.9974 1.0300)"/>
</g>
<ellipse cx="1462" cy="1011" rx="807" ry="799" fill="url(#wgrad)"/>
<ellipse cx="1462" cy="1011" rx="807" ry="799" fill="url(#wgrad2)"/>
<g filter="url(#tb)" opacity="0.46"><g transform="translate(1239.8 156.8) skewX(-56.0) scale(1 0.280)"><text x="-17.9" y="0" font-size="242.01" textLength="121.3" lengthAdjust="spacingAndGlyphs" fill="#000">L</text><text x="95.0" y="0" font-size="242.01" textLength="57.9" lengthAdjust="spacingAndGlyphs" fill="#000">i</text><text x="148.5" y="0" font-size="242.01" textLength="82.1" lengthAdjust="spacingAndGlyphs" fill="#000">t</text><text x="226.3" y="0" font-size="242.01" textLength="130.1" lengthAdjust="spacingAndGlyphs" fill="#000">h</text><text x="351.3" y="0" font-size="242.01" textLength="132.5" lengthAdjust="spacingAndGlyphs" fill="#000">o</text></g></g>
<g filter="url(#tb)" opacity="0.46"><g transform="translate(98.3 457.0) skewX(-56.0) scale(1 0.280)"><text x="-8.9" y="0" font-size="242.74" textLength="130.8" lengthAdjust="spacingAndGlyphs" fill="#000">S</text><text x="118.2" y="0" font-size="242.74" textLength="81.5" lengthAdjust="spacingAndGlyphs" fill="#000">t</text><text x="193.3" y="0" font-size="242.74" textLength="90.3" lengthAdjust="spacingAndGlyphs" fill="#000">r</text><text x="275.8" y="0" font-size="242.74" textLength="128.1" lengthAdjust="spacingAndGlyphs" fill="#000">e</text><text x="401.7" y="0" font-size="242.74" textLength="99.2" lengthAdjust="spacingAndGlyphs" fill="#000">s</text><text x="503.9" y="0" font-size="242.74" textLength="105.5" lengthAdjust="spacingAndGlyphs" fill="#000">s</text></g></g>
<g filter="url(#tb)" opacity="0.46"><g transform="translate(2331.7 402.9) skewX(-56.0) scale(1 0.280)"><text x="-10.2" y="0" font-size="242.74" textLength="145.7" lengthAdjust="spacingAndGlyphs" fill="#000">C</text><text x="129.5" y="0" font-size="242.74" textLength="180.1" lengthAdjust="spacingAndGlyphs" fill="#000">M</text><text x="308.2" y="0" font-size="242.74" textLength="133.6" lengthAdjust="spacingAndGlyphs" fill="#000">P</text></g></g>
<g filter="url(#tb)" opacity="0.46"><g transform="translate(215.8 1247.0) skewX(-56.0) scale(1 0.280)"><text x="-14.5" y="0" font-size="242.74" textLength="127.8" lengthAdjust="spacingAndGlyphs" fill="#000">R</text><text x="115.4" y="0" font-size="242.74" textLength="144.4" lengthAdjust="spacingAndGlyphs" fill="#000">T</text><text x="241.0" y="0" font-size="242.74" textLength="139.0" lengthAdjust="spacingAndGlyphs" fill="#000">A</text></g></g>
<g filter="url(#tb)" opacity="0.46"><g transform="translate(2454.2 1451.7) skewX(-56.0) scale(1 0.280)"><text x="-15.8" y="0" font-size="242.74" textLength="128.7" lengthAdjust="spacingAndGlyphs" fill="#000">E</text><text x="108.3" y="0" font-size="242.74" textLength="145.7" lengthAdjust="spacingAndGlyphs" fill="#000">C</text><text x="248.5" y="0" font-size="242.74" textLength="160.7" lengthAdjust="spacingAndGlyphs" fill="#000">D</text></g></g>
<g filter="url(#tb)" opacity="0.46"><g transform="translate(1345.0 1991.8) skewX(-56.0) scale(1 0.280)"><text x="-15.9" y="0" font-size="242.74" textLength="129.1" lengthAdjust="spacingAndGlyphs" fill="#000">E</text><text x="110.9" y="0" font-size="242.74" textLength="80.6" lengthAdjust="spacingAndGlyphs" fill="#000">t</text><text x="185.9" y="0" font-size="242.74" textLength="111.2" lengthAdjust="spacingAndGlyphs" fill="#000">c</text><text x="293.0" y="0" font-size="242.74" textLength="131.3" lengthAdjust="spacingAndGlyphs" fill="#000">h</text></g></g>
<g transform="translate(750 110) scale(0.2447)" ><clipPath id="stclip"><rect x="78" y="85" width="1404" height="1445"/></clipPath><g clip-path="url(#stclip)"><rect x="78" y="85" width="1404" height="1445" fill="url(#hatch)" /><rect x="78" y="305" width="1404" height="215" fill="#eafafa" /><path d="M630,520 L905,520 L775,790 Z" fill="#eafafa"/><path d="M770,850 C720,940 690,1050 700,1150 C715,1250 770,1300 830,1305 L1482,1305 L1482,1090 L1050,1090 C960,1070 900,1000 850,920 Z" fill="#eafafa"/><path d="M78,1080 L200,1080 C290,1085 330,1140 335,1250 L335,1530 L78,1530 Z" fill="#eafafa"/><path d="M78,605 H480 M1070,600 H1470 M1070,1015 H1470 M200,1250 V990 H410 V1250 M630,1380 H830 M78,1315 H150 V1520" stroke="#9aa0b8" stroke-width="5" fill="none"/><path d="M78,272 H1482 M78,546 H380 C520,546 600,620 660,700 L770,815 M1482,546 H1180 C1030,546 960,620 900,700 L785,815 M770,815 C720,880 680,1000 672,1120 C670,1240 730,1335 850,1335 H1482 M785,815 C840,900 880,980 950,1030 C990,1058 1030,1065 1080,1065 H1482 M78,1055 H200 C300,1060 360,1120 365,1250 V1530" stroke="#d86a7c" stroke-width="62" fill="none"/><path d="M78,272 H1482 M78,546 H380 C520,546 600,620 660,700 L770,815 M1482,546 H1180 C1030,546 960,620 900,700 L785,815 M770,815 C720,880 680,1000 672,1120 C670,1240 730,1335 850,1335 H1482 M785,815 C840,900 880,980 950,1030 C990,1058 1030,1065 1080,1065 H1482 M78,1055 H200 C300,1060 360,1120 365,1250 V1530" stroke="#f08898" stroke-width="50" fill="none"/><path d="M700,740 L860,740 L800,820 L850,880 L700,880 L760,820 Z" fill="#f08898"/><rect x="135" y="655" width="250" height="275" fill="#8c8672" /><rect x="978" y="655" width="247" height="275" fill="#8c8672" /><rect x="615" y="565" width="30" height="780" fill="#8ee4f4" stroke="#1e3a48" stroke-width="7"/><rect x="895" y="565" width="27" height="480" fill="#8ee4f4" stroke="#1e3a48" stroke-width="7"/><text x="495" y="805" font-size="34" fill="#b050e0" font-family="Liberation Sans">SOTARGET_1_____Leading_____</text><rect x="765" y="780" width="15" height="55" fill="#e020c0" /><path d="M85,1330 L140,1520 L85,1520 Z" fill="#f08898"/></g></g>
<g transform="translate(400 550) scale(0.2258)" ><rect x="32" y="48" width="1943" height="1517" fill="#ffffff" stroke="#3a3a3a" stroke-width="9"/><rect x="92" y="88" width="170" height="37" fill="#2a32c4" stroke="#1a1d6a" stroke-width="5"/><rect x="180" y="165" width="32" height="125" fill="#2a32c4" stroke="#1a1d6a" stroke-width="5"/><rect x="245" y="165" width="35" height="125" fill="#2a32c4" stroke="#1a1d6a" stroke-width="5"/><rect x="180" y="335" width="32" height="455" fill="#2a32c4" stroke="#1a1d6a" stroke-width="5"/><rect x="245" y="335" width="35" height="455" fill="#2a32c4" stroke="#1a1d6a" stroke-width="5"/><rect x="180" y="828" width="32" height="457" fill="#2a32c4" stroke="#1a1d6a" stroke-width="5"/><rect x="245" y="828" width="35" height="457" fill="#2a32c4" stroke="#1a1d6a" stroke-width="5"/><rect x="180" y="1320" width="32" height="240" fill="#2a32c4" stroke="#1a1d6a" stroke-width="5"/><rect x="245" y="1320" width="35" height="240" fill="#2a32c4" stroke="#1a1d6a" stroke-width="5"/><rect x="525" y="165" width="30" height="135" fill="#2a32c4" stroke="#1a1d6a" stroke-width="5"/><rect x="440" y="360" width="35" height="160" fill="#2a32c4" stroke="#1a1d6a" stroke-width="5"/><rect x="505" y="360" width="35" height="160" fill="#2a32c4" stroke="#1a1d6a" stroke-width="5"/><rect x="422" y="575" width="36" height="455" fill="#2a32c4" stroke="#1a1d6a" stroke-width="5"/><rect x="488" y="575" width="32" height="455" fill="#2a32c4" stroke="#1a1d6a" stroke-width="5"/><rect x="1752" y="75" width="38" height="465" fill="#2a32c4" stroke="#1a1d6a" stroke-width="5"/><rect x="1830" y="60" width="35" height="140" fill="#2a32c4" stroke="#1a1d6a" stroke-width="5"/><rect x="1822" y="345" width="33" height="165" fill="#2a32c4" stroke="#1a1d6a" stroke-width="5"/><rect x="1887" y="345" width="33" height="165" fill="#2a32c4" stroke="#1a1d6a" stroke-width="5"/><rect x="1740" y="580" width="35" height="100" fill="#2a32c4" stroke="#1a1d6a" stroke-width="5"/><rect x="1805" y="580" width="33" height="100" fill="#2a32c4" stroke="#1a1d6a" stroke-width="5"/><rect x="1885" y="575" width="35" height="455" fill="#2a32c4" stroke="#1a1d6a" stroke-width="5"/><rect x="553" y="715" width="37" height="195" fill="#2a32c4" stroke="#1a1d6a" stroke-width="5"/><rect x="622" y="735" width="38" height="165" fill="#2a32c4" stroke="#1a1d6a" stroke-width="5"/><rect x="690" y="735" width="30" height="165" fill="#2a32c4" stroke="#1a1d6a" stroke-width="5"/><rect x="755" y="735" width="35" height="165" fill="#2a32c4" stroke="#1a1d6a" stroke-width="5"/><rect x="818" y="750" width="497" height="35" fill="#2a32c4" stroke="#1a1d6a" stroke-width="5"/><rect x="818" y="815" width="497" height="35" fill="#2a32c4" stroke="#1a1d6a" stroke-width="5"/><rect x="818" y="880" width="497" height="35" fill="#2a32c4" stroke="#1a1d6a" stroke-width="5"/><rect x="1345" y="750" width="500" height="35" fill="#2a32c4" stroke="#1a1d6a" stroke-width="5"/><rect x="1360" y="828" width="35" height="97" fill="#2a32c4" stroke="#1a1d6a" stroke-width="5"/><rect x="1750" y="820" width="100" height="30" fill="#2a32c4" stroke="#1a1d6a" stroke-width="5"/><rect x="1808" y="885" width="34" height="195" fill="#2a32c4" stroke="#1a1d6a" stroke-width="5"/><rect x="1315" y="970" width="230" height="35" fill="#2a32c4" stroke="#1a1d6a" stroke-width="5"/><rect x="1597" y="945" width="63" height="35" fill="#2a32c4" stroke="#1a1d6a" stroke-width="5"/><rect x="1720" y="965" width="32" height="30" fill="#2a32c4" stroke="#1a1d6a" stroke-width="5"/><rect x="422" y="1065" width="38" height="465" fill="#2a32c4" stroke="#1a1d6a" stroke-width="5"/><rect x="490" y="1095" width="298" height="35" fill="#2a32c4" stroke="#1a1d6a" stroke-width="5"/><rect x="490" y="1165" width="298" height="35" fill="#2a32c4" stroke="#1a1d6a" stroke-width="5"/><rect x="818" y="1075" width="497" height="35" fill="#2a32c4" stroke="#1a1d6a" stroke-width="5"/><rect x="818" y="1140" width="497" height="38" fill="#2a32c4" stroke="#1a1d6a" stroke-width="5"/><rect x="1350" y="1060" width="165" height="35" fill="#2a32c4" stroke="#1a1d6a" stroke-width="5"/><rect x="1350" y="1125" width="165" height="35" fill="#2a32c4" stroke="#1a1d6a" stroke-width="5"/><rect x="825" y="1215" width="130" height="35" fill="#2a32c4" stroke="#1a1d6a" stroke-width="5"/><rect x="1290" y="1215" width="195" height="35" fill="#2a32c4" stroke="#1a1d6a" stroke-width="5"/><rect x="1055" y="1210" width="30" height="165" fill="#2a32c4" stroke="#1a1d6a" stroke-width="5"/><rect x="1120" y="1210" width="35" height="165" fill="#2a32c4" stroke="#1a1d6a" stroke-width="5"/><rect x="675" y="1240" width="35" height="320" fill="#2a32c4" stroke="#1a1d6a" stroke-width="5"/><rect x="810" y="1350" width="70" height="35" fill="#2a32c4" stroke="#1a1d6a" stroke-width="5"/><rect x="810" y="1430" width="35" height="130" fill="#2a32c4" stroke="#1a1d6a" stroke-width="5"/><rect x="740" y="1445" width="35" height="35" fill="#2a32c4" stroke="#1a1d6a" stroke-width="5"/><rect x="740" y="1510" width="35" height="35" fill="#2a32c4" stroke="#1a1d6a" stroke-width="5"/><rect x="1430" y="1420" width="35" height="140" fill="#2a32c4" stroke="#1a1d6a" stroke-width="5"/><rect x="1670" y="1345" width="40" height="215" fill="#2a32c4" stroke="#1a1d6a" stroke-width="5"/><rect x="1655" y="1130" width="35" height="70" fill="#2a32c4" stroke="#1a1d6a" stroke-width="5"/><rect x="1675" y="1255" width="35" height="35" fill="#2a32c4" stroke="#1a1d6a" stroke-width="5"/><rect x="1795" y="1120" width="35" height="30" fill="#2a32c4" stroke="#1a1d6a" stroke-width="5"/><rect x="1398" y="65" width="32" height="80" fill="#2a32c4" stroke="#1a1d6a" stroke-width="5"/><rect x="1580" y="65" width="35" height="75" fill="#2a32c4" stroke="#1a1d6a" stroke-width="5"/><rect x="1250" y="65" width="30" height="35" fill="#2a32c4" stroke="#1a1d6a" stroke-width="5"/><rect x="1225" y="140" width="30" height="30" fill="#2a32c4" stroke="#1a1d6a" stroke-width="5"/><rect x="1565" y="185" width="35" height="30" fill="#2a32c4" stroke="#1a1d6a" stroke-width="5"/><rect x="898" y="680" width="32" height="35" fill="#2a32c4" stroke="#1a1d6a" stroke-width="5"/><rect x="1063" y="680" width="35" height="35" fill="#2a32c4" stroke="#1a1d6a" stroke-width="5"/><rect x="1230" y="680" width="32" height="35" fill="#2a32c4" stroke="#1a1d6a" stroke-width="5"/><rect x="1395" y="680" width="35" height="35" fill="#2a32c4" stroke="#1a1d6a" stroke-width="5"/><rect x="1560" y="680" width="35" height="35" fill="#2a32c4" stroke="#1a1d6a" stroke-width="5"/><rect x="898" y="65" width="32" height="30" fill="#2a32c4" stroke="#1a1d6a" stroke-width="5"/><rect x="1950" y="575" width="15" height="455" fill="#2a32c4" stroke="#1a1d6a" stroke-width="5"/><rect x="1175" y="1500" width="35" height="60" fill="#2a32c4" stroke="#1a1d6a" stroke-width="5"/><rect x="95" y="190" width="45" height="95" fill="#2a32c4" stroke="#1a1d6a" stroke-width="5"/><rect x="95" y="330" width="45" height="95" fill="#2a32c4" stroke="#1a1d6a" stroke-width="5"/><rect x="95" y="475" width="45" height="95" fill="#2a32c4" stroke="#1a1d6a" stroke-width="5"/><rect x="95" y="615" width="45" height="95" fill="#2a32c4" stroke="#1a1d6a" stroke-width="5"/><rect x="95" y="755" width="45" height="95" fill="#2a32c4" stroke="#1a1d6a" stroke-width="5"/><rect x="95" y="900" width="45" height="95" fill="#2a32c4" stroke="#1a1d6a" stroke-width="5"/><rect x="95" y="1040" width="45" height="95" fill="#2a32c4" stroke="#1a1d6a" stroke-width="5"/><rect x="95" y="1180" width="45" height="95" fill="#2a32c4" stroke="#1a1d6a" stroke-width="5"/><rect x="95" y="1330" width="45" height="95" fill="#2a32c4" stroke="#1a1d6a" stroke-width="5"/><rect x="95" y="1470" width="45" height="95" fill="#2a32c4" stroke="#1a1d6a" stroke-width="5"/><rect x="318" y="60" width="72" height="1500" fill="#1c2070" /><path d="M335,60 V1560 M352,60 V1560 M372,60 V1560" stroke="#2a34b0" stroke-width="5"/><rect x="462" y="65" width="30" height="255" fill="#2a2e90" stroke="#1a1d6a" stroke-width="5"/><rect x="590" y="100" width="18" height="540" fill="#1e2070" /><rect x="630" y="65" width="18" height="620" fill="#1e2070" /><rect x="670" y="65" width="18" height="620" fill="#1e2070" /><rect x="755" y="65" width="18" height="575" fill="#1e2070" /><rect x="800" y="65" width="18" height="620" fill="#1e2070" /><rect x="835" y="65" width="18" height="620" fill="#1e2070" /><rect x="925" y="160" width="18" height="480" fill="#1e2070" /><rect x="965" y="180" width="18" height="505" fill="#1e2070" /><rect x="1000" y="65" width="18" height="620" fill="#1e2070" /><rect x="1090" y="65" width="18" height="575" fill="#1e2070" /><rect x="1130" y="65" width="18" height="620" fill="#1e2070" /><rect x="1170" y="65" width="18" height="620" fill="#1e2070" /><rect x="1255" y="200" width="18" height="440" fill="#1e2070" /><rect x="1295" y="185" width="18" height="500" fill="#1e2070" /><rect x="1335" y="65" width="18" height="620" fill="#1e2070" /><rect x="1425" y="230" width="18" height="410" fill="#1e2070" /><rect x="1465" y="65" width="18" height="620" fill="#1e2070" /><rect x="1505" y="65" width="18" height="620" fill="#1e2070" /><rect x="1590" y="255" width="18" height="385" fill="#1e2070" /><rect x="1630" y="185" width="18" height="500" fill="#1e2070" /><rect x="1670" y="65" width="18" height="620" fill="#1e2070" /><path d="M560,105 H605 M720,130 H790 V290 H720 V130 M740,200 H800 M745,70 V100 H810 M900,160 H935 M985,70 H1020 M1080,70 V180 H1120 M1230,210 H1268 M1280,190 H1310 M1395,235 H1440 M1440,205 H1470 M1560,265 H1610 M1845,275 H1955 V60" stroke="#1e2070" stroke-width="18" fill="none"/><path d="M612,997 H1275 M626,950 V1045 M880,950 V1045 M1135,950 V1045 M1262,950 V1045" stroke="#1e2070" stroke-width="26" fill="none"/><path d="M1445,880 H1710 V925" stroke="#1e2070" stroke-width="20" fill="none"/><path d="M518,1235 V1560 M588,1285 V1560 M752,1250 V1395 M752,1290 H1010 V1395 M940,1290 V1560 M1000,1420 H1205 V1235 M1000,1420 V1560 M1070,1520 H1120 M1330,1300 V1385 M1330,1340 H1560 M1440,1300 V1385 M1300,1420 H1385 M1300,1420 V1560 M1570,1050 H1750 V1190 L1770,1210 V1310 M1570,1050 V1560 M1640,1040 V1080 M1615,1265 V1460 L1630,1480 V1560 M1800,1215 H1840 M1800,1215 V1560 M1870,1165 H1905 V1560 M1920,1115 H1945 V1560" stroke="#1e2070" stroke-width="22" fill="none"/></g>
<g transform="translate(1750 290) scale(0.1694)" ><clipPath id="dpclip"><rect x="92" y="100" width="1505" height="1445"/></clipPath><g clip-path="url(#dpclip)"><rect x="92" y="100" width="1505" height="1445" fill="#020204" /><path d="M45,95h48v75h-48zM315,95h48v75h-48zM585,95h48v75h-48zM855,95h48v75h-48zM1125,95h48v75h-48zM1395,95h48v75h-48zM1665,95h48v75h-48zM200,165h48v75h-48zM470,165h48v75h-48zM740,165h48v75h-48zM1010,165h48v75h-48zM1280,165h48v75h-48zM1550,165h48v75h-48zM85,235h48v75h-48zM355,235h48v75h-48zM625,235h48v75h-48zM895,235h48v75h-48zM1165,235h48v75h-48zM1435,235h48v75h-48zM1705,235h48v75h-48zM240,305h48v75h-48zM510,305h48v75h-48zM780,305h48v75h-48zM1050,305h48v75h-48zM1320,305h48v75h-48zM1590,305h48v75h-48zM125,375h48v75h-48zM395,375h48v75h-48zM665,375h48v75h-48zM935,375h48v75h-48zM1205,375h48v75h-48zM1475,375h48v75h-48zM10,445h48v75h-48zM280,445h48v75h-48zM550,445h48v75h-48zM820,445h48v75h-48zM1090,445h48v75h-48zM1360,445h48v75h-48zM1630,445h48v75h-48zM165,515h48v75h-48zM435,515h48v75h-48zM705,515h48v75h-48zM975,515h48v75h-48zM1245,515h48v75h-48zM1515,515h48v75h-48zM50,585h48v75h-48zM320,585h48v75h-48zM590,585h48v75h-48zM860,585h48v75h-48zM1130,585h48v75h-48zM1400,585h48v75h-48zM1670,585h48v75h-48zM205,655h48v75h-48zM475,655h48v75h-48zM745,655h48v75h-48zM1015,655h48v75h-48zM1285,655h48v75h-48zM1555,655h48v75h-48zM90,725h48v75h-48zM360,725h48v75h-48zM630,725h48v75h-48zM900,725h48v75h-48zM1170,725h48v75h-48zM1440,725h48v75h-48zM1710,725h48v75h-48zM-25,795h48v75h-48zM245,795h48v75h-48zM515,795h48v75h-48zM785,795h48v75h-48zM1055,795h48v75h-48zM1325,795h48v75h-48zM1595,795h48v75h-48zM130,865h48v75h-48zM400,865h48v75h-48zM670,865h48v75h-48zM940,865h48v75h-48zM1210,865h48v75h-48zM1480,865h48v75h-48zM15,935h48v75h-48zM285,935h48v75h-48zM555,935h48v75h-48zM825,935h48v75h-48zM1095,935h48v75h-48zM1365,935h48v75h-48zM1635,935h48v75h-48zM170,1005h48v75h-48zM440,1005h48v75h-48zM710,1005h48v75h-48zM980,1005h48v75h-48zM1250,1005h48v75h-48zM1520,1005h48v75h-48zM55,1075h48v75h-48zM325,1075h48v75h-48zM595,1075h48v75h-48zM865,1075h48v75h-48zM1135,1075h48v75h-48zM1405,1075h48v75h-48zM1675,1075h48v75h-48zM210,1145h48v75h-48zM480,1145h48v75h-48zM750,1145h48v75h-48zM1020,1145h48v75h-48zM1290,1145h48v75h-48zM1560,1145h48v75h-48zM95,1215h48v75h-48zM365,1215h48v75h-48zM635,1215h48v75h-48zM905,1215h48v75h-48zM1175,1215h48v75h-48zM1445,1215h48v75h-48zM1715,1215h48v75h-48zM-20,1285h48v75h-48zM250,1285h48v75h-48zM520,1285h48v75h-48zM790,1285h48v75h-48zM1060,1285h48v75h-48zM1330,1285h48v75h-48zM1600,1285h48v75h-48zM135,1355h48v75h-48zM405,1355h48v75h-48zM675,1355h48v75h-48zM945,1355h48v75h-48zM1215,1355h48v75h-48zM1485,1355h48v75h-48zM20,1425h48v75h-48zM290,1425h48v75h-48zM560,1425h48v75h-48zM830,1425h48v75h-48zM1100,1425h48v75h-48zM1370,1425h48v75h-48zM1640,1425h48v75h-48zM175,1495h48v75h-48zM445,1495h48v75h-48zM715,1495h48v75h-48zM985,1495h48v75h-48zM1255,1495h48v75h-48zM1525,1495h48v75h-48zM60,1565h48v75h-48zM330,1565h48v75h-48zM600,1565h48v75h-48zM870,1565h48v75h-48zM1140,1565h48v75h-48zM1410,1565h48v75h-48zM1680,1565h48v75h-48z" fill="#0c0c8a" filter="url(#dpb)"/><path d="M-25,60h45v75h-45zM245,60h45v75h-45zM515,60h45v75h-45zM785,60h45v75h-45zM1055,60h45v75h-45zM1325,60h45v75h-45zM1595,60h45v75h-45zM130,130h45v75h-45zM400,130h45v75h-45zM670,130h45v75h-45zM940,130h45v75h-45zM1210,130h45v75h-45zM1480,130h45v75h-45zM15,200h45v75h-45zM285,200h45v75h-45zM555,200h45v75h-45zM825,200h45v75h-45zM1095,200h45v75h-45zM1365,200h45v75h-45zM1635,200h45v75h-45zM170,270h45v75h-45zM440,270h45v75h-45zM710,270h45v75h-45zM980,270h45v75h-45zM1250,270h45v75h-45zM1520,270h45v75h-45zM55,340h45v75h-45zM325,340h45v75h-45zM595,340h45v75h-45zM865,340h45v75h-45zM1135,340h45v75h-45zM1405,340h45v75h-45zM-60,410h45v75h-45zM210,410h45v75h-45zM480,410h45v75h-45zM750,410h45v75h-45zM1020,410h45v75h-45zM1290,410h45v75h-45zM1560,410h45v75h-45zM95,480h45v75h-45zM365,480h45v75h-45zM635,480h45v75h-45zM905,480h45v75h-45zM1175,480h45v75h-45zM1445,480h45v75h-45zM-20,550h45v75h-45zM250,550h45v75h-45zM520,550h45v75h-45zM790,550h45v75h-45zM1060,550h45v75h-45zM1330,550h45v75h-45zM1600,550h45v75h-45zM135,620h45v75h-45zM405,620h45v75h-45zM675,620h45v75h-45zM945,620h45v75h-45zM1215,620h45v75h-45zM1485,620h45v75h-45zM20,690h45v75h-45zM290,690h45v75h-45zM560,690h45v75h-45zM830,690h45v75h-45zM1100,690h45v75h-45zM1370,690h45v75h-45zM1640,690h45v75h-45zM-95,760h45v75h-45zM175,760h45v75h-45zM445,760h45v75h-45zM715,760h45v75h-45zM985,760h45v75h-45zM1255,760h45v75h-45zM1525,760h45v75h-45zM60,830h45v75h-45zM330,830h45v75h-45zM600,830h45v75h-45zM870,830h45v75h-45zM1140,830h45v75h-45zM1410,830h45v75h-45zM-55,900h45v75h-45zM215,900h45v75h-45zM485,900h45v75h-45zM755,900h45v75h-45zM1025,900h45v75h-45zM1295,900h45v75h-45zM1565,900h45v75h-45zM100,970h45v75h-45zM370,970h45v75h-45zM640,970h45v75h-45zM910,970h45v75h-45zM1180,970h45v75h-45zM1450,970h45v75h-45zM-15,1040h45v75h-45zM255,1040h45v75h-45zM525,1040h45v75h-45zM795,1040h45v75h-45zM1065,1040h45v75h-45zM1335,1040h45v75h-45zM1605,1040h45v75h-45zM140,1110h45v75h-45zM410,1110h45v75h-45zM680,1110h45v75h-45zM950,1110h45v75h-45zM1220,1110h45v75h-45zM1490,1110h45v75h-45zM25,1180h45v75h-45zM295,1180h45v75h-45zM565,1180h45v75h-45zM835,1180h45v75h-45zM1105,1180h45v75h-45zM1375,1180h45v75h-45zM1645,1180h45v75h-45zM-90,1250h45v75h-45zM180,1250h45v75h-45zM450,1250h45v75h-45zM720,1250h45v75h-45zM990,1250h45v75h-45zM1260,1250h45v75h-45zM1530,1250h45v75h-45zM65,1320h45v75h-45zM335,1320h45v75h-45zM605,1320h45v75h-45zM875,1320h45v75h-45zM1145,1320h45v75h-45zM1415,1320h45v75h-45zM-50,1390h45v75h-45zM220,1390h45v75h-45zM490,1390h45v75h-45zM760,1390h45v75h-45zM1030,1390h45v75h-45zM1300,1390h45v75h-45zM1570,1390h45v75h-45zM105,1460h45v75h-45zM375,1460h45v75h-45zM645,1460h45v75h-45zM915,1460h45v75h-45zM1185,1460h45v75h-45zM1455,1460h45v75h-45zM-10,1530h45v75h-45zM260,1530h45v75h-45zM530,1530h45v75h-45zM800,1530h45v75h-45zM1070,1530h45v75h-45zM1340,1530h45v75h-45zM1610,1530h45v75h-45z" fill="#8e8c16"/><rect x="911" y="408" width="374" height="360" fill="#020204" /><rect x="970" y="472" width="262" height="246" fill="#0a8a12" /></g></g>
<g transform="translate(1900 670) scale(0.2008)" ><rect x="85" y="93" width="185" height="152" fill="#7c9a9c" /><rect x="270" y="93" width="180" height="152" fill="#a89284" /><rect x="450" y="93" width="180" height="152" fill="#a89284" /><rect x="630" y="93" width="178" height="152" fill="#a89284" /><rect x="808" y="93" width="180" height="152" fill="#a89284" /><rect x="988" y="93" width="180" height="152" fill="#a89284" /><rect x="1168" y="93" width="172" height="152" fill="#8d989a" /><rect x="1340" y="93" width="180" height="152" fill="#6a9ca2" /><rect x="1520" y="93" width="180" height="152" fill="#6a9ca2" /><rect x="1700" y="93" width="188" height="152" fill="#6a9ca2" /><rect x="85" y="245" width="185" height="140" fill="#7c9a9c" /><rect x="270" y="245" width="180" height="140" fill="#a89284" /><rect x="450" y="245" width="180" height="140" fill="#a89284" /><rect x="630" y="245" width="178" height="140" fill="#a89284" /><rect x="808" y="245" width="180" height="140" fill="#a89284" /><rect x="988" y="245" width="180" height="140" fill="#a89284" /><rect x="1168" y="245" width="172" height="140" fill="#8d989a" /><rect x="1340" y="245" width="180" height="140" fill="#0808f8" /><rect x="1520" y="245" width="180" height="140" fill="#6a9ca2" /><rect x="1700" y="245" width="188" height="140" fill="#6a9ca2" /><rect x="85" y="385" width="185" height="140" fill="#9a908a" /><rect x="270" y="385" width="180" height="140" fill="#a89284" /><rect x="450" y="385" width="180" height="140" fill="#a89284" /><rect x="630" y="385" width="178" height="140" fill="#a89284" /><rect x="808" y="385" width="180" height="140" fill="#a89284" /><rect x="988" y="385" width="180" height="140" fill="#a89284" /><rect x="1168" y="385" width="172" height="140" fill="#8d989a" /><rect x="1340" y="385" width="180" height="140" fill="#9a9090" /><rect x="1520" y="385" width="180" height="140" fill="#9a9090" /><rect x="1700" y="385" width="188" height="140" fill="#9a9090" /><rect x="85" y="525" width="185" height="140" fill="#7c9a9c" /><rect x="270" y="525" width="180" height="140" fill="#a89284" /><rect x="450" y="525" width="180" height="140" fill="#a89284" /><rect x="630" y="525" width="178" height="140" fill="#ff9a38" /><rect x="808" y="525" width="180" height="140" fill="#ff9a38" /><rect x="988" y="525" width="180" height="140" fill="#ff9a38" /><rect x="1168" y="525" width="172" height="140" fill="#8d989a" /><rect x="1340" y="525" width="180" height="140" fill="#8fa088" /><rect x="1520" y="525" width="180" height="140" fill="#6a9ca2" /><rect x="1700" y="525" width="188" height="140" fill="#6a9ca2" /><rect x="85" y="665" width="185" height="140" fill="#7c9a9c" /><rect x="270" y="665" width="180" height="140" fill="#a89284" /><rect x="450" y="665" width="180" height="140" fill="#a89284" /><rect x="630" y="665" width="178" height="140" fill="#ff9a38" /><rect x="808" y="665" width="180" height="140" fill="#e20808" /><rect x="988" y="665" width="180" height="140" fill="#ff9a38" /><rect x="1168" y="665" width="172" height="140" fill="#8d989a" /><rect x="1340" y="665" width="180" height="140" fill="#8fa088" /><rect x="1520" y="665" width="180" height="140" fill="#6a9ca2" /><rect x="1700" y="665" width="188" height="140" fill="#6a9ca2" /><rect x="85" y="805" width="185" height="140" fill="#7c9a9c" /><rect x="270" y="805" width="180" height="140" fill="#a89284" /><rect x="450" y="805" width="180" height="140" fill="#a89284" /><rect x="630" y="805" width="178" height="140" fill="#ff9a38" /><rect x="808" y="805" width="180" height="140" fill="#ff9a38" /><rect x="988" y="805" width="180" height="140" fill="#ff9a38" /><rect x="1168" y="805" width="172" height="140" fill="#8d989a" /><rect x="1340" y="805" width="180" height="140" fill="#6a9ca2" /><rect x="1520" y="805" width="180" height="140" fill="#6a9ca2" /><rect x="1700" y="805" width="188" height="140" fill="#6a9ca2" /><rect x="85" y="945" width="185" height="140" fill="#7c9a9c" /><rect x="270" y="945" width="180" height="140" fill="#a89284" /><rect x="450" y="945" width="180" height="140" fill="#a89284" /><rect x="630" y="945" width="178" height="140" fill="#a89284" /><rect x="808" y="945" width="180" height="140" fill="#a89284" /><rect x="988" y="945" width="180" height="140" fill="#a89284" /><rect x="1168" y="945" width="172" height="140" fill="#8d989a" /><rect x="1340" y="945" width="180" height="140" fill="#8fa088" /><rect x="1520" y="945" width="180" height="140" fill="#6a9ca2" /><rect x="1700" y="945" width="188" height="140" fill="#6a9ca2" /><rect x="85" y="1085" width="185" height="140" fill="#7c9a9c" /><rect x="270" y="1085" width="180" height="140" fill="#a89284" /><rect x="450" y="1085" width="180" height="140" fill="#a89284" /><rect x="630" y="1085" width="178" height="140" fill="#a89284" /><rect x="808" y="1085" width="180" height="140" fill="#a89284" /><rect x="988" y="1085" width="180" height="140" fill="#a89284" /><rect x="1168" y="1085" width="172" height="140" fill="#8d989a" /><rect x="1340" y="1085" width="180" height="140" fill="#6a9ca2" /><rect x="1520" y="1085" width="180" height="140" fill="#6a9ca2" /><rect x="1700" y="1085" width="188" height="140" fill="#6a9ca2" /><rect x="85" y="1225" width="185" height="140" fill="#9a908a" /><rect x="270" y="1225" width="180" height="140" fill="#a89284" /><rect x="450" y="1225" width="180" height="140" fill="#a89284" /><rect x="630" y="1225" width="178" height="140" fill="#a89284" /><rect x="808" y="1225" width="180" height="140" fill="#ff0808" /><rect x="988" y="1225" width="180" height="140" fill="#a89284" /><rect x="1168" y="1225" width="172" height="140" fill="#8d989a" /><rect x="1340" y="1225" width="180" height="140" fill="#9a9090" /><rect x="1520" y="1225" width="180" height="140" fill="#9a9090" /><rect x="1700" y="1225" width="188" height="140" fill="#9a9090" /><rect x="85" y="1365" width="185" height="143" fill="#7c9a9c" /><rect x="270" y="1365" width="180" height="143" fill="#a89284" /><rect x="450" y="1365" width="180" height="143" fill="#a89284" /><rect x="630" y="1365" width="178" height="143" fill="#a89284" /><rect x="808" y="1365" width="180" height="143" fill="#a89284" /><rect x="988" y="1365" width="180" height="143" fill="#a89284" /><rect x="1168" y="1365" width="172" height="143" fill="#8d989a" /><rect x="1340" y="1365" width="180" height="143" fill="#6a9ca2" /><rect x="1520" y="1365" width="180" height="143" fill="#6a9ca2" /><rect x="1700" y="1365" width="188" height="143" fill="#6a9ca2" /><path d="M240,130 V1500 M690,130 V520 M290,500 H1150 M290,980 H1150 M650,980 V1500 M1130,980 V1500 M1500,530 V1080" stroke="#6a6468" stroke-width="22" opacity="0.35" fill="none"/><path d="M270,93V1508M450,93V1508M630,93V1508M808,93V1508M988,93V1508M1168,93V1508M1340,93V1508M1520,93V1508M1700,93V1508M85,245H1888M85,385H1888M85,525H1888M85,665H1888M85,805H1888M85,945H1888M85,1085H1888M85,1225H1888M85,1365H1888" stroke="#dd1e1e" stroke-width="19" fill="none"/><rect x="85" y="93" width="1803" height="1415" fill="none" stroke="#b81818" stroke-width="24"/></g>
<g transform="translate(2490 560) scale(0.2496)" ><clipPath id="sfclip"><polygon points="52,523 133,415 265,337 376,260 498,221 608,138 719,88 774,41 830,83 940,111 995,105 1106,133 1210,102 1271,133 1371,130 1481,147 1620,160 1719,133 1813,155 1896,155 2007,171 2117,177 2228,188 2311,216 2228,276 2134,387 2062,470 2007,553 1968,608 1924,691 1841,818 1813,774 1741,807 1719,774 1675,719 1620,691 1564,675 1509,691 1421,747 1387,708 1315,741 1277,713 1233,752 1177,724 1122,735 1106,758 995,719 846,713 785,664 724,708 603,664 553,564 459,553 232,594 166,520"/></clipPath><polygon points="52,523 133,415 265,337 376,260 498,221 608,138 719,88 774,41 830,83 940,111 995,105 1106,133 1210,102 1271,133 1371,130 1481,147 1620,160 1719,133 1813,155 1896,155 2007,171 2117,177 2228,188 2311,216 2228,276 2134,387 2062,470 2007,553 1968,608 1924,691 1841,818 1813,774 1741,807 1719,774 1675,719 1620,691 1564,675 1509,691 1421,747 1387,708 1315,741 1277,713 1233,752 1177,724 1122,735 1106,758 995,719 846,713 785,664 724,708 603,664 553,564 459,553 232,594 166,520" fill="#153f7c"/><polygon points="525,431 581,376 719,332 940,288 1202,265 1260,282 1398,332 1509,310 1620,310 1730,343 1813,387 1896,404 2007,442 2062,470 2007,553 1968,608 1924,691 1841,818 1813,774 1741,807 1719,774 1675,719 1640,660 1560,650 1400,650 1200,630 1000,610 800,580 600,530 540,480" fill="#a3a3ab"/><polygon points="608,453 774,420 995,387 1122,343 1288,359 1454,387 1620,420 1730,470 1841,498 1951,531 2007,553 1968,608 1924,640 1840,625 1785,608 1702,610 1675,597 1509,640 1400,660 1202,664 1000,650 800,630 640,600 575,585 560,540" fill="#7b7bb9"/><polygon points="700,600 900,615 1100,630 1300,640 1500,660 1509,691 1421,747 1387,708 1315,741 1277,713 1233,752 1177,724 1122,735 1106,758 995,719 846,713 785,664 724,708 650,640" fill="#153f7c"/><polygon points="581,640 700,655 850,668 1000,690 1100,700 1202,695 1343,705 1343,730 1315,741 1277,713 1233,752 1177,724 1122,735 1106,758 995,719 846,713 785,664 724,708 603,664" fill="#ff7d1e"/><polygon points="52,523 133,415 265,337 376,260 498,221 608,138 719,88 774,41 800,65 760,100 700,140 640,190 553,265 500,320 470,360 481,420 520,445 600,470 700,480 830,500 950,525 1023,553 1023,585 900,582 760,574 620,566 553,559 459,547 232,520 166,520" fill="#3a9a7a"/><polygon points="1553,205 1620,160 1719,133 1813,155 1896,155 2007,171 2117,177 2228,188 2311,216 2228,276 2134,387 2062,400 1942,387 1841,332 1758,293 1675,265 1600,240" fill="#3a9a7a"/><polygon points="830,165 1000,152 1200,156 1371,168 1371,186 1200,180 1000,180 830,188" fill="#3a9a7a"/><polygon points="664,476 830,453 995,437 1160,452 1233,470 1398,487 1564,509 1647,536 1675,553 1675,570 1564,586 1398,597 1343,625 1233,614 1122,608 1023,590 1023,553 830,514 664,487" fill="#ff7d1e"/><polygon points="1454,625 1564,608 1675,597 1702,636 1620,664 1509,652" fill="#3a9a7a"/><ellipse cx="2040" cy="205" rx="50" ry="20" fill="#153f7c"/><g clip-path="url(#sfclip)"><path d="M-380,0 L-640,900M-342,0 L-602,900M-304,0 L-564,900M-266,0 L-526,900M-228,0 L-488,900M-190,0 L-450,900M-152,0 L-412,900M-114,0 L-374,900M-76,0 L-336,900M-38,0 L-298,900M0,0 L-260,900M38,0 L-222,900M76,0 L-184,900M114,0 L-146,900M152,0 L-108,900M190,0 L-70,900M228,0 L-32,900M266,0 L6,900M304,0 L44,900M342,0 L82,900M380,0 L120,900M418,0 L158,900M456,0 L196,900M494,0 L234,900M532,0 L272,900M570,0 L310,900M608,0 L348,900M646,0 L386,900M684,0 L424,900M722,0 L462,900M760,0 L500,900M798,0 L538,900M836,0 L576,900M874,0 L614,900M912,0 L652,900M950,0 L690,900M988,0 L728,900M1026,0 L766,900M1064,0 L804,900M1102,0 L842,900M1140,0 L880,900M1178,0 L918,900M1216,0 L956,900M1254,0 L994,900M1292,0 L1032,900M1330,0 L1070,900M1368,0 L1108,900M1406,0 L1146,900M1444,0 L1184,900M1482,0 L1222,900M1520,0 L1260,900M1558,0 L1298,900M1596,0 L1336,900M1634,0 L1374,900M1672,0 L1412,900M1710,0 L1450,900M1748,0 L1488,900M1786,0 L1526,900M1824,0 L1564,900M1862,0 L1602,900M1900,0 L1640,900M1938,0 L1678,900M1976,0 L1716,900M2014,0 L1754,900M2052,0 L1792,900M2090,0 L1830,900M2128,0 L1868,900M2166,0 L1906,900M2204,0 L1944,900M2242,0 L1982,900M2280,0 L2020,900M2318,0 L2058,900M2356,0 L2096,900M2394,0 L2134,900M2432,0 L2172,900M2470,0 L2210,900M2508,0 L2248,900M2546,0 L2286,900M2584,0 L2324,900M2622,0 L2362,900M0,40 L2400,-100M0,68 L2400,-72M0,96 L2400,-44M0,124 L2400,-16M0,152 L2400,12M0,180 L2400,40M0,208 L2400,68M0,236 L2400,96M0,264 L2400,124M0,292 L2400,152M0,320 L2400,180M0,348 L2400,208M0,376 L2400,236M0,404 L2400,264M0,432 L2400,292M0,460 L2400,320M0,488 L2400,348M0,516 L2400,376M0,544 L2400,404M0,572 L2400,432M0,600 L2400,460M0,628 L2400,488M0,656 L2400,516M0,684 L2400,544M0,712 L2400,572M0,740 L2400,600M0,768 L2400,628M0,796 L2400,656M0,824 L2400,684M0,852 L2400,712M0,880 L2400,740M0,908 L2400,768M0,936 L2400,796M0,964 L2400,824" stroke="#0c1c3c" stroke-width="4.5" opacity="0.6" fill="none"/></g><polygon points="52,523 133,415 265,337 376,260 498,221 608,138 719,88 774,41 830,83 940,111 995,105 1106,133 1210,102 1271,133 1371,130 1481,147 1620,160 1719,133 1813,155 1896,155 2007,171 2117,177 2228,188 2311,216 2228,276 2134,387 2062,470 2007,553 1968,608 1924,691 1841,818 1813,774 1741,807 1719,774 1675,719 1620,691 1564,675 1509,691 1421,747 1387,708 1315,741 1277,713 1233,752 1177,724 1122,735 1106,758 995,719 846,713 785,664 724,708 603,664 553,564 459,553 232,594 166,520" fill="none" stroke="#0c1c3c" stroke-width="5"/></g>
<g transform="translate(2500 765) scale(0.2635)" ><rect x="30" y="28" width="2032" height="1532" fill="#d7d7c9" stroke="#9a9a98" stroke-width="4"/><defs><linearGradient id="tbg" x1="0" y1="0" x2="0" y2="1"><stop offset="0" stop-color="#6a8ccc"/><stop offset="1" stop-color="#3c5c9c"/></linearGradient></defs><rect x="30" y="28" width="2032" height="37" fill="url(#tbg)" /><rect x="36" y="32" width="28" height="28" fill="#c8d4ec" /><rect x="1962" y="32" width="96" height="28" fill="#c8d4ec" /><text x="1020" y="55" text-anchor="middle" font-family="Liberation Sans" font-size="21" font-weight="bold" fill="#e8ecf8">Calibre - DFM RVE</text><rect x="32" y="65" width="2028" height="43" fill="#d2d2ca" /><text x="50" y="95" font-family="Liberation Sans" font-size="19" fill="#333">File</text><text x="105" y="95" font-family="Liberation Sans" font-size="19" fill="#333">Layers</text><text x="190" y="95" font-family="Liberation Sans" font-size="19" fill="#333">Window</text><text x="283" y="95" font-family="Liberation Sans" font-size="19" fill="#333">CMP</text><text x="2003" y="95" font-family="Liberation Sans" font-size="19" fill="#333">Help</text><rect x="55" y="122" width="95" height="40" fill="#d0d0c2" stroke="#a8a8a0" stroke-width="2"/><rect x="150" y="118" width="168" height="44" fill="#e2e2d4" stroke="#a8a8a0" stroke-width="2"/><text x="70" y="150" font-family="Liberation Sans" font-size="19" fill="#333">Layers</text><text x="170" y="150" font-family="Liberation Sans" font-size="19" fill="#333">CMP Browser</text><rect x="55" y="165" width="1985" height="210" fill="#ececdc" stroke="#a0a098" stroke-width="3"/><rect x="57" y="167" width="1981" height="30" fill="#dadaca" /><rect x="57" y="197" width="1981" height="28" fill="#e4e4d2" /><rect x="57" y="225" width="1981" height="28" fill="#f0f0e2" /><rect x="57" y="253" width="1981" height="28" fill="#e4e4d2" /><rect x="57" y="281" width="1981" height="28" fill="#f0f0e2" /><rect x="57" y="309" width="1981" height="28" fill="#e4e4d2" /><rect x="57" y="337" width="1981" height="28" fill="#f0f0e2" /><path d="M258,167V370M437,167V370M556,167V370M716,167V370M878,167V370M1038,167V370M1198,167V370M1358,167V370M1520,167V370M1765,167V370" stroke="#c4c4b4" stroke-width="2"/><text x="140" y="190" text-anchor="middle" font-family="Liberation Sans" font-size="19" fill="#333">Metal</text><text x="350" y="190" text-anchor="middle" font-family="Liberation Sans" font-size="19" fill="#333">Fill</text><text x="497" y="190" text-anchor="middle" font-family="Liberation Sans" font-size="19" fill="#333">Total</text><text x="635" y="190" text-anchor="middle" font-family="Liberation Sans" font-size="19" fill="#333">Rule01</text><text x="797" y="190" text-anchor="middle" font-family="Liberation Sans" font-size="19" fill="#333">Rule02</text><text x="957" y="190" text-anchor="middle" font-family="Liberation Sans" font-size="19" fill="#333">Rule03</text><text x="1118" y="190" text-anchor="middle" font-family="Liberation Sans" font-size="19" fill="#333">Rule04</text><text x="1278" y="190" text-anchor="middle" font-family="Liberation Sans" font-size="19" fill="#333">Rule05</text><text x="1439" y="190" text-anchor="middle" font-family="Liberation Sans" font-size="19" fill="#333">Rule06</text><text x="1642" y="190" text-anchor="middle" font-family="Liberation Sans" font-size="19" fill="#333">Rule07_col</text><text x="1900" y="190" text-anchor="middle" font-family="Liberation Sans" font-size="19" fill="#333">Rule07_row</text><text x="158" y="218" text-anchor="middle" font-family="Liberation Sans" font-size="19" fill="#333">M1</text><text x="350" y="218" text-anchor="middle" font-family="Liberation Sans" font-size="19" fill="#333">Fill01</text><text x="497" y="218" text-anchor="middle" font-family="Liberation Sans" font-size="19" fill="#333">0</text><text x="637" y="218" text-anchor="middle" font-family="Liberation Sans" font-size="19" fill="#333">0</text><text x="797" y="218" text-anchor="middle" font-family="Liberation Sans" font-size="19" fill="#333">0</text><text x="957" y="218" text-anchor="middle" font-family="Liberation Sans" font-size="19" fill="#333">0</text><text x="1118" y="218" text-anchor="middle" font-family="Liberation Sans" font-size="19" fill="#333">0</text><text x="1278" y="218" text-anchor="middle" font-family="Liberation Sans" font-size="19" fill="#333">0</text><text x="1439" y="218" text-anchor="middle" font-family="Liberation Sans" font-size="19" fill="#333">0</text><text x="1642" y="218" text-anchor="middle" font-family="Liberation Sans" font-size="19" fill="#333">0</text><text x="1900" y="218" text-anchor="middle" font-family="Liberation Sans" font-size="19" fill="#333">0</text><text x="158" y="246" text-anchor="middle" font-family="Liberation Sans" font-size="19" fill="#333">M1</text><text x="350" y="246" text-anchor="middle" font-family="Liberation Sans" font-size="19" fill="#333">Original</text><text x="497" y="246" text-anchor="middle" font-family="Liberation Sans" font-size="19" fill="#333">0</text><text x="637" y="246" text-anchor="middle" font-family="Liberation Sans" font-size="19" fill="#333">0</text><text x="797" y="246" text-anchor="middle" font-family="Liberation Sans" font-size="19" fill="#333">0</text><text x="957" y="246" text-anchor="middle" font-family="Liberation Sans" font-size="19" fill="#333">0</text><text x="1118" y="246" text-anchor="middle" font-family="Liberation Sans" font-size="19" fill="#333">0</text><text x="1278" y="246" text-anchor="middle" font-family="Liberation Sans" font-size="19" fill="#333">0</text><text x="1439" y="246" text-anchor="middle" font-family="Liberation Sans" font-size="19" fill="#333">0</text><text x="1642" y="246" text-anchor="middle" font-family="Liberation Sans" font-size="19" fill="#333">0</text><text x="1900" y="246" text-anchor="middle" font-family="Liberation Sans" font-size="19" fill="#333">0</text><text x="158" y="274" text-anchor="middle" font-family="Liberation Sans" font-size="19" fill="#333">M2</text><text x="350" y="274" text-anchor="middle" font-family="Liberation Sans" font-size="19" fill="#333">Fill01</text><text x="497" y="274" text-anchor="middle" font-family="Liberation Sans" font-size="19" fill="#333">0</text><text x="637" y="274" text-anchor="middle" font-family="Liberation Sans" font-size="19" fill="#333">0</text><text x="797" y="274" text-anchor="middle" font-family="Liberation Sans" font-size="19" fill="#333">0</text><text x="158" y="302" text-anchor="middle" font-family="Liberation Sans" font-size="19" fill="#333">M2</text><text x="350" y="302" text-anchor="middle" font-family="Liberation Sans" font-size="19" fill="#333">Original</text><text x="497" y="302" text-anchor="middle" font-family="Liberation Sans" font-size="19" fill="#333">0</text><text x="637" y="302" text-anchor="middle" font-family="Liberation Sans" font-size="19" fill="#333">0</text><text x="797" y="302" text-anchor="middle" font-family="Liberation Sans" font-size="19" fill="#333">0</text><text x="158" y="330" text-anchor="middle" font-family="Liberation Sans" font-size="19" fill="#333">M3</text><text x="350" y="330" text-anchor="middle" font-family="Liberation Sans" font-size="19" fill="#333">Fill01</text><text x="497" y="330" text-anchor="middle" font-family="Liberation Sans" font-size="19" fill="#333">0</text><text x="637" y="330" text-anchor="middle" font-family="Liberation Sans" font-size="19" fill="#333">0</text><text x="158" y="358" text-anchor="middle" font-family="Liberation Sans" font-size="19" fill="#333">M3</text><text x="350" y="358" text-anchor="middle" font-family="Liberation Sans" font-size="19" fill="#333">Original</text><text x="497" y="358" text-anchor="middle" font-family="Liberation Sans" font-size="19" fill="#333">0</text><text x="637" y="358" text-anchor="middle" font-family="Liberation Sans" font-size="19" fill="#333">0</text><rect x="60" y="378" width="150" height="26" fill="#d0d0c2" stroke="#a8a8a0" stroke-width="2"/><rect x="222" y="378" width="153" height="26" fill="#d0d0c2" stroke="#a8a8a0" stroke-width="2"/><text x="68" y="398" font-family="Liberation Sans" font-size="19" fill="#333">Colormap  &#9656;</text><text x="230" y="398" font-family="Liberation Sans" font-size="19" fill="#333">Histogram  &#9656;</text><rect x="40" y="415" width="2010" height="5" fill="#b8b8a8" /><rect x="45" y="440" width="990" height="1105" fill="#dcdccc" stroke="#a8a8a0" stroke-width="3"/><rect x="1045" y="440" width="985" height="1105" fill="#dcdccc" stroke="#a8a8a0" stroke-width="3"/><text x="58" y="470" font-family="Liberation Sans" font-size="19" fill="#333">&#8801; Thickness_Topology M3_data_detail</text><text x="58" y="502" font-family="Liberation Sans" font-size="19" fill="#333">Layer Extent (0.11,0.15) (649.89,649.65)</text><text x="58" y="532" font-family="Liberation Sans" font-size="19" fill="#333">Range [20111.6, 20128.5]</text><text x="963" y="472" font-family="Liberation Sans" font-size="22" fill="#222">_ &#9633; &#215;</text><text x="1058" y="470" font-family="Liberation Sans" font-size="19" fill="#333">&#8801; Thickness_Topology M3_With_Fill_data_detail</text><text x="1058" y="502" font-family="Liberation Sans" font-size="19" fill="#333">Layer Extent (0.11,0.15) (649.89,649.65)</text><text x="1058" y="532" font-family="Liberation Sans" font-size="19" fill="#333">Range [20110.7, 20115.5]</text><text x="1963" y="472" font-family="Liberation Sans" font-size="22" fill="#222">_ &#9633; &#215;</text></g>
<rect x="2515.00" y="909.70" width="8.26" height="11.10" fill="#f2a474"/><rect x="2522.96" y="909.70" width="24.17" height="11.10" fill="#ec0c0c"/><rect x="2546.82" y="909.70" width="32.12" height="11.10" fill="#fae0c4"/><rect x="2578.65" y="909.70" width="143.51" height="11.10" fill="#dba42c"/><rect x="2721.86" y="909.70" width="8.26" height="11.10" fill="#fae0c4"/><rect x="2729.82" y="909.70" width="32.12" height="11.10" fill="#ec0c0c"/><rect x="2761.64" y="909.70" width="8.26" height="11.10" fill="#f2a474"/><rect x="2515.00" y="920.50" width="8.26" height="8.28" fill="#f2a474"/><rect x="2522.96" y="920.50" width="8.26" height="8.28" fill="#ec0c0c"/><rect x="2530.91" y="920.50" width="16.21" height="8.28" fill="#fae0c4"/><rect x="2546.82" y="920.50" width="63.95" height="8.28" fill="#dba42c"/><rect x="2610.47" y="920.50" width="103.73" height="8.28" fill="#ffff14"/><rect x="2713.91" y="920.50" width="40.08" height="8.28" fill="#dba42c"/><rect x="2753.69" y="920.50" width="16.21" height="8.28" fill="#fae0c4"/><rect x="2515.00" y="928.48" width="16.21" height="8.28" fill="#fae0c4"/><rect x="2530.91" y="928.48" width="16.21" height="8.28" fill="#dba42c"/><rect x="2546.82" y="928.48" width="8.26" height="8.28" fill="#ffff14"/><rect x="2554.78" y="928.48" width="32.12" height="8.28" fill="#dba42c"/><rect x="2586.61" y="928.48" width="48.04" height="8.28" fill="#ffff14"/><rect x="2634.34" y="928.48" width="63.95" height="8.28" fill="#f2a474"/><rect x="2697.99" y="928.48" width="55.99" height="8.28" fill="#ffff14"/><rect x="2753.69" y="928.48" width="8.26" height="8.28" fill="#fae0c4"/><rect x="2761.64" y="928.48" width="8.26" height="8.28" fill="#ec0c0c"/><rect x="2515.00" y="936.46" width="16.21" height="8.28" fill="#ec0c0c"/><rect x="2530.91" y="936.46" width="8.26" height="8.28" fill="#dba42c"/><rect x="2538.87" y="936.46" width="24.17" height="8.28" fill="#ffff14"/><rect x="2562.74" y="936.46" width="16.21" height="8.28" fill="#dba42c"/><rect x="2578.65" y="936.46" width="63.95" height="8.28" fill="#ffff14"/><rect x="2642.30" y="936.46" width="55.99" height="8.28" fill="#f2a474"/><rect x="2697.99" y="936.46" width="8.26" height="8.28" fill="#dba42c"/><rect x="2705.95" y="936.46" width="40.08" height="8.28" fill="#ffff14"/><rect x="2745.73" y="936.46" width="8.26" height="8.28" fill="#dba42c"/><rect x="2753.69" y="936.46" width="8.26" height="8.28" fill="#fae0c4"/><rect x="2761.64" y="936.46" width="8.26" height="8.28" fill="#ec0c0c"/><rect x="2515.00" y="944.44" width="8.26" height="8.28" fill="#ec0c0c"/><rect x="2522.96" y="944.44" width="8.26" height="8.28" fill="#fae0c4"/><rect x="2530.91" y="944.44" width="16.21" height="8.28" fill="#dba42c"/><rect x="2546.82" y="944.44" width="24.17" height="8.28" fill="#ffff14"/><rect x="2570.69" y="944.44" width="16.21" height="8.28" fill="#dba42c"/><rect x="2586.61" y="944.44" width="8.26" height="8.28" fill="#ffff14"/><rect x="2594.56" y="944.44" width="8.26" height="8.28" fill="#dba42c"/><rect x="2602.52" y="944.44" width="48.04" height="8.28" fill="#ffff14"/><rect x="2650.26" y="944.44" width="63.95" height="8.28" fill="#f2a474"/><rect x="2713.91" y="944.44" width="8.26" height="8.28" fill="#dba42c"/><rect x="2721.86" y="944.44" width="24.17" height="8.28" fill="#ffff14"/><rect x="2745.73" y="944.44" width="8.26" height="8.28" fill="#dba42c"/><rect x="2753.69" y="944.44" width="8.26" height="8.28" fill="#fae0c4"/><rect x="2761.64" y="944.44" width="8.26" height="8.28" fill="#ec0c0c"/><rect x="2515.00" y="952.42" width="16.21" height="8.28" fill="#ec0c0c"/><rect x="2530.91" y="952.42" width="8.26" height="8.28" fill="#dba42c"/><rect x="2538.87" y="952.42" width="8.26" height="8.28" fill="#ffff14"/><rect x="2546.82" y="952.42" width="8.26" height="8.28" fill="#dba42c"/><rect x="2554.78" y="952.42" width="16.21" height="8.28" fill="#ffff14"/><rect x="2570.69" y="952.42" width="40.08" height="8.28" fill="#dba42c"/><rect x="2610.47" y="952.42" width="40.08" height="8.28" fill="#ffff14"/><rect x="2650.26" y="952.42" width="63.95" height="8.28" fill="#f2a474"/><rect x="2713.91" y="952.42" width="16.21" height="8.28" fill="#dba42c"/><rect x="2729.82" y="952.42" width="16.21" height="8.28" fill="#ffff14"/><rect x="2745.73" y="952.42" width="8.26" height="8.28" fill="#dba42c"/><rect x="2753.69" y="952.42" width="8.26" height="8.28" fill="#fae0c4"/><rect x="2761.64" y="952.42" width="8.26" height="8.28" fill="#ec0c0c"/><rect x="2515.00" y="960.40" width="16.21" height="8.28" fill="#ec0c0c"/><rect x="2530.91" y="960.40" width="16.21" height="8.28" fill="#dba42c"/><rect x="2546.82" y="960.40" width="24.17" height="8.28" fill="#ffff14"/><rect x="2570.69" y="960.40" width="32.12" height="8.28" fill="#dba42c"/><rect x="2602.52" y="960.40" width="8.26" height="8.28" fill="#ffff14"/><rect x="2610.47" y="960.40" width="8.26" height="8.28" fill="#dba42c"/><rect x="2618.43" y="960.40" width="8.26" height="8.28" fill="#ffff14"/><rect x="2626.39" y="960.40" width="8.26" height="8.28" fill="#dba42c"/><rect x="2634.34" y="960.40" width="24.17" height="8.28" fill="#ffff14"/><rect x="2658.21" y="960.40" width="63.95" height="8.28" fill="#f2a474"/><rect x="2721.86" y="960.40" width="32.12" height="8.28" fill="#ffff14"/><rect x="2753.69" y="960.40" width="8.26" height="8.28" fill="#fae0c4"/><rect x="2761.64" y="960.40" width="8.26" height="8.28" fill="#ec0c0c"/><rect x="2515.00" y="968.38" width="8.26" height="8.28" fill="#ec0c0c"/><rect x="2522.96" y="968.38" width="8.26" height="8.28" fill="#fae0c4"/><rect x="2530.91" y="968.38" width="24.17" height="8.28" fill="#dba42c"/><rect x="2554.78" y="968.38" width="24.17" height="8.28" fill="#ffff14"/><rect x="2578.65" y="968.38" width="16.21" height="8.28" fill="#dba42c"/><rect x="2594.56" y="968.38" width="63.95" height="8.28" fill="#ffff14"/><rect x="2658.21" y="968.38" width="63.95" height="8.28" fill="#f2a474"/><rect x="2721.86" y="968.38" width="8.26" height="8.28" fill="#dba42c"/><rect x="2729.82" y="968.38" width="16.21" height="8.28" fill="#ffff14"/><rect x="2745.73" y="968.38" width="8.26" height="8.28" fill="#dba42c"/><rect x="2753.69" y="968.38" width="8.26" height="8.28" fill="#fae0c4"/><rect x="2761.64" y="968.38" width="8.26" height="8.28" fill="#ec0c0c"/><rect x="2515.00" y="976.36" width="8.26" height="8.28" fill="#ec0c0c"/><rect x="2522.96" y="976.36" width="8.26" height="8.28" fill="#fae0c4"/><rect x="2530.91" y="976.36" width="32.12" height="8.28" fill="#dba42c"/><rect x="2562.74" y="976.36" width="8.26" height="8.28" fill="#ffff14"/><rect x="2570.69" y="976.36" width="16.21" height="8.28" fill="#dba42c"/><rect x="2586.61" y="976.36" width="79.86" height="8.28" fill="#ffff14"/><rect x="2666.17" y="976.36" width="55.99" height="8.28" fill="#f2a474"/><rect x="2721.86" y="976.36" width="24.17" height="8.28" fill="#ffff14"/><rect x="2745.73" y="976.36" width="8.26" height="8.28" fill="#dba42c"/><rect x="2753.69" y="976.36" width="8.26" height="8.28" fill="#fae0c4"/><rect x="2761.64" y="976.36" width="8.26" height="8.28" fill="#ec0c0c"/><rect x="2515.00" y="984.35" width="16.21" height="8.28" fill="#ec0c0c"/><rect x="2530.91" y="984.35" width="63.95" height="8.28" fill="#dba42c"/><rect x="2594.56" y="984.35" width="79.86" height="8.28" fill="#ffff14"/><rect x="2674.12" y="984.35" width="40.08" height="8.28" fill="#f2a474"/><rect x="2713.91" y="984.35" width="32.12" height="8.28" fill="#ffff14"/><rect x="2745.73" y="984.35" width="8.26" height="8.28" fill="#dba42c"/><rect x="2753.69" y="984.35" width="8.26" height="8.28" fill="#fae0c4"/><rect x="2761.64" y="984.35" width="8.26" height="8.28" fill="#ec0c0c"/><rect x="2515.00" y="992.33" width="16.21" height="8.28" fill="#ec0c0c"/><rect x="2530.91" y="992.33" width="48.04" height="8.28" fill="#dba42c"/><rect x="2578.65" y="992.33" width="8.26" height="8.28" fill="#ffff14"/><rect x="2586.61" y="992.33" width="8.26" height="8.28" fill="#dba42c"/><rect x="2594.56" y="992.33" width="87.82" height="8.28" fill="#ffff14"/><rect x="2682.08" y="992.33" width="40.08" height="8.28" fill="#f2a474"/><rect x="2721.86" y="992.33" width="32.12" height="8.28" fill="#ffff14"/><rect x="2753.69" y="992.33" width="8.26" height="8.28" fill="#fae0c4"/><rect x="2761.64" y="992.33" width="8.26" height="8.28" fill="#ec0c0c"/><rect x="2515.00" y="1000.31" width="16.21" height="8.28" fill="#ec0c0c"/><rect x="2530.91" y="1000.31" width="40.08" height="8.28" fill="#dba42c"/><rect x="2570.69" y="1000.31" width="111.69" height="8.28" fill="#ffff14"/><rect x="2682.08" y="1000.31" width="40.08" height="8.28" fill="#f2a474"/><rect x="2721.86" y="1000.31" width="8.26" height="8.28" fill="#dba42c"/><rect x="2729.82" y="1000.31" width="16.21" height="8.28" fill="#ffff14"/><rect x="2745.73" y="1000.31" width="8.26" height="8.28" fill="#dba42c"/><rect x="2753.69" y="1000.31" width="8.26" height="8.28" fill="#fae0c4"/><rect x="2761.64" y="1000.31" width="8.26" height="8.28" fill="#ec0c0c"/><rect x="2515.00" y="1008.29" width="8.26" height="8.28" fill="#ec0c0c"/><rect x="2522.96" y="1008.29" width="8.26" height="8.28" fill="#fae0c4"/><rect x="2530.91" y="1008.29" width="32.12" height="8.28" fill="#dba42c"/><rect x="2562.74" y="1008.29" width="48.04" height="8.28" fill="#ffff14"/><rect x="2610.47" y="1008.29" width="8.26" height="8.28" fill="#f2a474"/><rect x="2618.43" y="1008.29" width="111.69" height="8.28" fill="#ffff14"/><rect x="2729.82" y="1008.29" width="24.17" height="8.28" fill="#dba42c"/><rect x="2753.69" y="1008.29" width="8.26" height="8.28" fill="#fae0c4"/><rect x="2761.64" y="1008.29" width="8.26" height="8.28" fill="#ec0c0c"/><rect x="2515.00" y="1016.27" width="8.26" height="8.28" fill="#f2a474"/><rect x="2522.96" y="1016.27" width="8.26" height="8.28" fill="#ec0c0c"/><rect x="2530.91" y="1016.27" width="48.04" height="8.28" fill="#dba42c"/><rect x="2578.65" y="1016.27" width="55.99" height="8.28" fill="#ffff14"/><rect x="2634.34" y="1016.27" width="8.26" height="8.28" fill="#f2a474"/><rect x="2642.30" y="1016.27" width="40.08" height="8.28" fill="#ffff14"/><rect x="2682.08" y="1016.27" width="8.26" height="8.28" fill="#dba42c"/><rect x="2690.04" y="1016.27" width="24.17" height="8.28" fill="#ffff14"/><rect x="2713.91" y="1016.27" width="40.08" height="8.28" fill="#dba42c"/><rect x="2753.69" y="1016.27" width="8.26" height="8.28" fill="#fae0c4"/><rect x="2761.64" y="1016.27" width="8.26" height="8.28" fill="#f2a474"/><rect x="2515.00" y="1024.25" width="16.21" height="8.28" fill="#ec0c0c"/><rect x="2530.91" y="1024.25" width="32.12" height="8.28" fill="#dba42c"/><rect x="2562.74" y="1024.25" width="16.21" height="8.28" fill="#ffff14"/><rect x="2578.65" y="1024.25" width="24.17" height="8.28" fill="#f2a474"/><rect x="2602.52" y="1024.25" width="16.21" height="8.28" fill="#ffff14"/><rect x="2618.43" y="1024.25" width="8.26" height="8.28" fill="#f2a474"/><rect x="2626.39" y="1024.25" width="40.08" height="8.28" fill="#ffff14"/><rect x="2666.17" y="1024.25" width="87.82" height="8.28" fill="#dba42c"/><rect x="2753.69" y="1024.25" width="8.26" height="8.28" fill="#fae0c4"/><rect x="2761.64" y="1024.25" width="8.26" height="8.28" fill="#ec0c0c"/><rect x="2515.00" y="1032.23" width="8.26" height="8.28" fill="#ec0c0c"/><rect x="2522.96" y="1032.23" width="8.26" height="8.28" fill="#fae0c4"/><rect x="2530.91" y="1032.23" width="16.21" height="8.28" fill="#dba42c"/><rect x="2546.82" y="1032.23" width="32.12" height="8.28" fill="#ffff14"/><rect x="2578.65" y="1032.23" width="48.04" height="8.28" fill="#f2a474"/><rect x="2626.39" y="1032.23" width="40.08" height="8.28" fill="#ffff14"/><rect x="2666.17" y="1032.23" width="87.82" height="8.28" fill="#dba42c"/><rect x="2753.69" y="1032.23" width="8.26" height="8.28" fill="#fae0c4"/><rect x="2761.64" y="1032.23" width="8.26" height="8.28" fill="#ec0c0c"/><rect x="2515.00" y="1040.21" width="8.26" height="8.28" fill="#00008a"/><rect x="2522.96" y="1040.21" width="8.26" height="8.28" fill="#fae0c4"/><rect x="2530.91" y="1040.21" width="8.26" height="8.28" fill="#dba42c"/><rect x="2538.87" y="1040.21" width="40.08" height="8.28" fill="#ffff14"/><rect x="2578.65" y="1040.21" width="48.04" height="8.28" fill="#f2a474"/><rect x="2626.39" y="1040.21" width="32.12" height="8.28" fill="#ffff14"/><rect x="2658.21" y="1040.21" width="95.77" height="8.28" fill="#dba42c"/><rect x="2753.69" y="1040.21" width="8.26" height="8.28" fill="#fae0c4"/><rect x="2761.64" y="1040.21" width="8.26" height="8.28" fill="#ec0c0c"/><rect x="2515.00" y="1048.19" width="8.26" height="8.28" fill="#ec0c0c"/><rect x="2522.96" y="1048.19" width="8.26" height="8.28" fill="#44dccc"/><rect x="2530.91" y="1048.19" width="8.26" height="8.28" fill="#dba42c"/><rect x="2538.87" y="1048.19" width="32.12" height="8.28" fill="#ffff14"/><rect x="2570.69" y="1048.19" width="63.95" height="8.28" fill="#f2a474"/><rect x="2634.34" y="1048.19" width="24.17" height="8.28" fill="#ffff14"/><rect x="2658.21" y="1048.19" width="95.77" height="8.28" fill="#dba42c"/><rect x="2753.69" y="1048.19" width="8.26" height="8.28" fill="#fae0c4"/><rect x="2761.64" y="1048.19" width="8.26" height="8.28" fill="#f2a474"/><rect x="2515.00" y="1056.17" width="16.21" height="8.28" fill="#ec0c0c"/><rect x="2530.91" y="1056.17" width="8.26" height="8.28" fill="#dba42c"/><rect x="2538.87" y="1056.17" width="24.17" height="8.28" fill="#ffff14"/><rect x="2562.74" y="1056.17" width="71.91" height="8.28" fill="#f2a474"/><rect x="2634.34" y="1056.17" width="16.21" height="8.28" fill="#ffff14"/><rect x="2650.26" y="1056.17" width="103.73" height="8.28" fill="#dba42c"/><rect x="2753.69" y="1056.17" width="8.26" height="8.28" fill="#fae0c4"/><rect x="2761.64" y="1056.17" width="8.26" height="8.28" fill="#ec0c0c"/><rect x="2515.00" y="1064.15" width="16.21" height="8.28" fill="#ec0c0c"/><rect x="2530.91" y="1064.15" width="8.26" height="8.28" fill="#dba42c"/><rect x="2538.87" y="1064.15" width="32.12" height="8.28" fill="#ffff14"/><rect x="2570.69" y="1064.15" width="63.95" height="8.28" fill="#f2a474"/><rect x="2634.34" y="1064.15" width="16.21" height="8.28" fill="#ffff14"/><rect x="2650.26" y="1064.15" width="103.73" height="8.28" fill="#dba42c"/><rect x="2753.69" y="1064.15" width="8.26" height="8.28" fill="#fae0c4"/><rect x="2761.64" y="1064.15" width="8.26" height="8.28" fill="#f2a474"/><rect x="2515.00" y="1072.13" width="16.21" height="8.28" fill="#ec0c0c"/><rect x="2530.91" y="1072.13" width="8.26" height="8.28" fill="#dba42c"/><rect x="2538.87" y="1072.13" width="32.12" height="8.28" fill="#ffff14"/><rect x="2570.69" y="1072.13" width="40.08" height="8.28" fill="#f2a474"/><rect x="2610.47" y="1072.13" width="8.26" height="8.28" fill="#ffff14"/><rect x="2618.43" y="1072.13" width="8.26" height="8.28" fill="#f2a474"/><rect x="2626.39" y="1072.13" width="24.17" height="8.28" fill="#ffff14"/><rect x="2650.26" y="1072.13" width="103.73" height="8.28" fill="#dba42c"/><rect x="2753.69" y="1072.13" width="8.26" height="8.28" fill="#fae0c4"/><rect x="2761.64" y="1072.13" width="8.26" height="8.28" fill="#ec0c0c"/><rect x="2515.00" y="1080.11" width="8.26" height="8.28" fill="#ec0c0c"/><rect x="2522.96" y="1080.11" width="8.26" height="8.28" fill="#fae0c4"/><rect x="2530.91" y="1080.11" width="8.26" height="8.28" fill="#dba42c"/><rect x="2538.87" y="1080.11" width="40.08" height="8.28" fill="#ffff14"/><rect x="2578.65" y="1080.11" width="40.08" height="8.28" fill="#f2a474"/><rect x="2618.43" y="1080.11" width="8.26" height="8.28" fill="#ffff14"/><rect x="2626.39" y="1080.11" width="8.26" height="8.28" fill="#f2a474"/><rect x="2634.34" y="1080.11" width="24.17" height="8.28" fill="#ffff14"/><rect x="2658.21" y="1080.11" width="95.77" height="8.28" fill="#dba42c"/><rect x="2753.69" y="1080.11" width="8.26" height="8.28" fill="#fae0c4"/><rect x="2761.64" y="1080.11" width="8.26" height="8.28" fill="#ec0c0c"/><rect x="2515.00" y="1088.09" width="8.26" height="8.28" fill="#ec0c0c"/><rect x="2522.96" y="1088.09" width="8.26" height="8.28" fill="#fae0c4"/><rect x="2530.91" y="1088.09" width="16.21" height="8.28" fill="#dba42c"/><rect x="2546.82" y="1088.09" width="32.12" height="8.28" fill="#ffff14"/><rect x="2578.65" y="1088.09" width="48.04" height="8.28" fill="#f2a474"/><rect x="2626.39" y="1088.09" width="24.17" height="8.28" fill="#ffff14"/><rect x="2650.26" y="1088.09" width="103.73" height="8.28" fill="#dba42c"/><rect x="2753.69" y="1088.09" width="8.26" height="8.28" fill="#fae0c4"/><rect x="2761.64" y="1088.09" width="8.26" height="8.28" fill="#ec0c0c"/><rect x="2515.00" y="1096.07" width="8.26" height="8.28" fill="#ec0c0c"/><rect x="2522.96" y="1096.07" width="8.26" height="8.28" fill="#fae0c4"/><rect x="2530.91" y="1096.07" width="8.26" height="8.28" fill="#dba42c"/><rect x="2538.87" y="1096.07" width="32.12" height="8.28" fill="#ffff14"/><rect x="2570.69" y="1096.07" width="48.04" height="8.28" fill="#f2a474"/><rect x="2618.43" y="1096.07" width="32.12" height="8.28" fill="#ffff14"/><rect x="2650.26" y="1096.07" width="103.73" height="8.28" fill="#dba42c"/><rect x="2753.69" y="1096.07" width="8.26" height="8.28" fill="#fae0c4"/><rect x="2761.64" y="1096.07" width="8.26" height="8.28" fill="#ec0c0c"/><rect x="2515.00" y="1104.05" width="8.26" height="8.28" fill="#ec0c0c"/><rect x="2522.96" y="1104.05" width="8.26" height="8.28" fill="#fae0c4"/><rect x="2530.91" y="1104.05" width="16.21" height="8.28" fill="#dba42c"/><rect x="2546.82" y="1104.05" width="40.08" height="8.28" fill="#ffff14"/><rect x="2586.61" y="1104.05" width="24.17" height="8.28" fill="#f2a474"/><rect x="2610.47" y="1104.05" width="32.12" height="8.28" fill="#ffff14"/><rect x="2642.30" y="1104.05" width="111.69" height="8.28" fill="#dba42c"/><rect x="2753.69" y="1104.05" width="8.26" height="8.28" fill="#fae0c4"/><rect x="2761.64" y="1104.05" width="8.26" height="8.28" fill="#ec0c0c"/><rect x="2515.00" y="1112.04" width="16.21" height="8.28" fill="#ec0c0c"/><rect x="2530.91" y="1112.04" width="8.26" height="8.28" fill="#dba42c"/><rect x="2538.87" y="1112.04" width="48.04" height="8.28" fill="#ffff14"/><rect x="2586.61" y="1112.04" width="24.17" height="8.28" fill="#f2a474"/><rect x="2610.47" y="1112.04" width="32.12" height="8.28" fill="#ffff14"/><rect x="2642.30" y="1112.04" width="111.69" height="8.28" fill="#dba42c"/><rect x="2753.69" y="1112.04" width="8.26" height="8.28" fill="#fae0c4"/><rect x="2761.64" y="1112.04" width="8.26" height="8.28" fill="#ec0c0c"/><rect x="2515.00" y="1120.02" width="16.21" height="8.28" fill="#ec0c0c"/><rect x="2530.91" y="1120.02" width="8.26" height="8.28" fill="#dba42c"/><rect x="2538.87" y="1120.02" width="71.91" height="8.28" fill="#ffff14"/><rect x="2610.47" y="1120.02" width="8.26" height="8.28" fill="#f2a474"/><rect x="2618.43" y="1120.02" width="48.04" height="8.28" fill="#ffff14"/><rect x="2666.17" y="1120.02" width="16.21" height="8.28" fill="#dba42c"/><rect x="2682.08" y="1120.02" width="8.26" height="8.28" fill="#ffff14"/><rect x="2690.04" y="1120.02" width="63.95" height="8.28" fill="#dba42c"/><rect x="2753.69" y="1120.02" width="8.26" height="8.28" fill="#fae0c4"/><rect x="2761.64" y="1120.02" width="8.26" height="8.28" fill="#ec0c0c"/><rect x="2515.00" y="1128.00" width="16.21" height="8.28" fill="#ec0c0c"/><rect x="2530.91" y="1128.00" width="8.26" height="8.28" fill="#dba42c"/><rect x="2538.87" y="1128.00" width="63.95" height="8.28" fill="#ffff14"/><rect x="2602.52" y="1128.00" width="8.26" height="8.28" fill="#f2a474"/><rect x="2610.47" y="1128.00" width="40.08" height="8.28" fill="#ffff14"/><rect x="2650.26" y="1128.00" width="16.21" height="8.28" fill="#f2a474"/><rect x="2666.17" y="1128.00" width="32.12" height="8.28" fill="#ffff14"/><rect x="2697.99" y="1128.00" width="8.26" height="8.28" fill="#dba42c"/><rect x="2705.95" y="1128.00" width="8.26" height="8.28" fill="#ffff14"/><rect x="2713.91" y="1128.00" width="40.08" height="8.28" fill="#dba42c"/><rect x="2753.69" y="1128.00" width="8.26" height="8.28" fill="#fae0c4"/><rect x="2761.64" y="1128.00" width="8.26" height="8.28" fill="#ec0c0c"/><rect x="2515.00" y="1135.98" width="8.26" height="8.28" fill="#ec0c0c"/><rect x="2522.96" y="1135.98" width="8.26" height="8.28" fill="#fae0c4"/><rect x="2530.91" y="1135.98" width="8.26" height="8.28" fill="#dba42c"/><rect x="2538.87" y="1135.98" width="111.69" height="8.28" fill="#ffff14"/><rect x="2650.26" y="1135.98" width="32.12" height="8.28" fill="#f2a474"/><rect x="2682.08" y="1135.98" width="48.04" height="8.28" fill="#ffff14"/><rect x="2729.82" y="1135.98" width="16.21" height="8.28" fill="#dba42c"/><rect x="2745.73" y="1135.98" width="16.21" height="8.28" fill="#fae0c4"/><rect x="2761.64" y="1135.98" width="8.26" height="8.28" fill="#ec0c0c"/><rect x="2515.00" y="1143.96" width="8.26" height="8.28" fill="#fae0c4"/><rect x="2522.96" y="1143.96" width="8.26" height="8.28" fill="#ec0c0c"/><rect x="2530.91" y="1143.96" width="16.21" height="8.28" fill="#dba42c"/><rect x="2546.82" y="1143.96" width="111.69" height="8.28" fill="#ffff14"/><rect x="2658.21" y="1143.96" width="24.17" height="8.28" fill="#f2a474"/><rect x="2682.08" y="1143.96" width="40.08" height="8.28" fill="#ffff14"/><rect x="2721.86" y="1143.96" width="24.17" height="8.28" fill="#dba42c"/><rect x="2745.73" y="1143.96" width="24.17" height="8.28" fill="#fae0c4"/><rect x="2515.00" y="1151.94" width="40.08" height="8.28" fill="#fae0c4"/><rect x="2554.78" y="1151.94" width="159.42" height="8.28" fill="#dba42c"/><rect x="2713.91" y="1151.94" width="55.99" height="8.28" fill="#fae0c4"/><rect x="2515.00" y="1159.92" width="32.12" height="8.28" fill="#ec0c0c"/><rect x="2546.82" y="1159.92" width="32.12" height="8.28" fill="#fae0c4"/><rect x="2578.65" y="1159.92" width="95.77" height="8.28" fill="#dba42c"/><rect x="2674.12" y="1159.92" width="8.26" height="8.28" fill="#fae0c4"/><rect x="2682.08" y="1159.92" width="16.21" height="8.28" fill="#ec0c0c"/><rect x="2697.99" y="1159.92" width="71.91" height="8.28" fill="#fae0c4"/><path d="M2515.00,909.70V1167.90M2522.96,909.70V1167.90M2530.91,909.70V1167.90M2538.87,909.70V1167.90M2546.82,909.70V1167.90M2554.78,909.70V1167.90M2562.74,909.70V1167.90M2570.69,909.70V1167.90M2578.65,909.70V1167.90M2586.61,909.70V1167.90M2594.56,909.70V1167.90M2602.52,909.70V1167.90M2610.47,909.70V1167.90M2618.43,909.70V1167.90M2626.39,909.70V1167.90M2634.34,909.70V1167.90M2642.30,909.70V1167.90M2650.26,909.70V1167.90M2658.21,909.70V1167.90M2666.17,909.70V1167.90M2674.12,909.70V1167.90M2682.08,909.70V1167.90M2690.04,909.70V1167.90M2697.99,909.70V1167.90M2705.95,909.70V1167.90M2713.91,909.70V1167.90M2721.86,909.70V1167.90M2729.82,909.70V1167.90M2737.78,909.70V1167.90M2745.73,909.70V1167.90M2753.69,909.70V1167.90M2761.64,909.70V1167.90M2769.60,909.70V1167.90M2515.00,909.70H2769.60M2515.00,920.50H2769.60M2515.00,928.48H2769.60M2515.00,936.46H2769.60M2515.00,944.44H2769.60M2515.00,952.42H2769.60M2515.00,960.40H2769.60M2515.00,968.38H2769.60M2515.00,976.36H2769.60M2515.00,984.35H2769.60M2515.00,992.33H2769.60M2515.00,1000.31H2769.60M2515.00,1008.29H2769.60M2515.00,1016.27H2769.60M2515.00,1024.25H2769.60M2515.00,1032.23H2769.60M2515.00,1040.21H2769.60M2515.00,1048.19H2769.60M2515.00,1056.17H2769.60M2515.00,1064.15H2769.60M2515.00,1072.13H2769.60M2515.00,1080.11H2769.60M2515.00,1088.09H2769.60M2515.00,1096.07H2769.60M2515.00,1104.05H2769.60M2515.00,1112.04H2769.60M2515.00,1120.02H2769.60M2515.00,1128.00H2769.60M2515.00,1135.98H2769.60M2515.00,1143.96H2769.60M2515.00,1151.94H2769.60M2515.00,1159.92H2769.60M2515.00,1167.90H2769.60" stroke="#3a3020" stroke-width="0.7" opacity="0.75" fill="none"/>
<rect x="2778.40" y="909.70" width="79.58" height="11.10" fill="#00008a"/><rect x="2857.68" y="909.70" width="16.16" height="11.10" fill="#7464d4"/><rect x="2873.54" y="909.70" width="24.08" height="11.10" fill="#44dccc"/><rect x="2897.32" y="909.70" width="24.08" height="11.10" fill="#dcdce4"/><rect x="2921.11" y="909.70" width="32.01" height="11.10" fill="#44dccc"/><rect x="2952.82" y="909.70" width="63.72" height="11.10" fill="#7464d4"/><rect x="3016.24" y="909.70" width="16.16" height="11.10" fill="#00008a"/><rect x="2778.40" y="920.50" width="32.01" height="8.28" fill="#00008a"/><rect x="2810.11" y="920.50" width="16.16" height="8.28" fill="#7464d4"/><rect x="2825.97" y="920.50" width="8.23" height="8.28" fill="#00008a"/><rect x="2833.90" y="920.50" width="16.16" height="8.28" fill="#7464d4"/><rect x="2849.75" y="920.50" width="16.16" height="8.28" fill="#44dccc"/><rect x="2865.61" y="920.50" width="16.16" height="8.28" fill="#dcdce4"/><rect x="2881.47" y="920.50" width="24.08" height="8.28" fill="#fae0c4"/><rect x="2905.25" y="920.50" width="8.23" height="8.28" fill="#dba42c"/><rect x="2913.18" y="920.50" width="39.94" height="8.28" fill="#fae0c4"/><rect x="2952.82" y="920.50" width="8.23" height="8.28" fill="#dcdce4"/><rect x="2960.75" y="920.50" width="24.08" height="8.28" fill="#fae0c4"/><rect x="2984.53" y="920.50" width="8.23" height="8.28" fill="#dcdce4"/><rect x="2992.46" y="920.50" width="16.16" height="8.28" fill="#44dccc"/><rect x="3008.32" y="920.50" width="16.16" height="8.28" fill="#7464d4"/><rect x="3024.17" y="920.50" width="8.23" height="8.28" fill="#00008a"/><rect x="2778.40" y="928.48" width="16.16" height="8.28" fill="#00008a"/><rect x="2794.26" y="928.48" width="8.23" height="8.28" fill="#44dccc"/><rect x="2802.18" y="928.48" width="24.08" height="8.28" fill="#dcdce4"/><rect x="2825.97" y="928.48" width="16.16" height="8.28" fill="#44dccc"/><rect x="2841.82" y="928.48" width="24.08" height="8.28" fill="#dcdce4"/><rect x="2865.61" y="928.48" width="16.16" height="8.28" fill="#fae0c4"/><rect x="2881.47" y="928.48" width="8.23" height="8.28" fill="#dba42c"/><rect x="2889.39" y="928.48" width="24.08" height="8.28" fill="#ffff14"/><rect x="2913.18" y="928.48" width="47.87" height="8.28" fill="#f2a474"/><rect x="2960.75" y="928.48" width="24.08" height="8.28" fill="#ffff14"/><rect x="2984.53" y="928.48" width="16.16" height="8.28" fill="#dba42c"/><rect x="3000.39" y="928.48" width="16.16" height="8.28" fill="#fae0c4"/><rect x="3016.24" y="928.48" width="8.23" height="8.28" fill="#7464d4"/><rect x="3024.17" y="928.48" width="8.23" height="8.28" fill="#00008a"/><rect x="2778.40" y="936.46" width="16.16" height="8.28" fill="#00008a"/><rect x="2794.26" y="936.46" width="8.23" height="8.28" fill="#44dccc"/><rect x="2802.18" y="936.46" width="8.23" height="8.28" fill="#dcdce4"/><rect x="2810.11" y="936.46" width="8.23" height="8.28" fill="#fae0c4"/><rect x="2818.04" y="936.46" width="47.87" height="8.28" fill="#dcdce4"/><rect x="2865.61" y="936.46" width="16.16" height="8.28" fill="#fae0c4"/><rect x="2881.47" y="936.46" width="8.23" height="8.28" fill="#dba42c"/><rect x="2889.39" y="936.46" width="24.08" height="8.28" fill="#ffff14"/><rect x="2913.18" y="936.46" width="32.01" height="8.28" fill="#f2a474"/><rect x="2944.89" y="936.46" width="16.16" height="8.28" fill="#f4845a"/><rect x="2960.75" y="936.46" width="8.23" height="8.28" fill="#f2a474"/><rect x="2968.68" y="936.46" width="16.16" height="8.28" fill="#ffff14"/><rect x="2984.53" y="936.46" width="8.23" height="8.28" fill="#dba42c"/><rect x="2992.46" y="936.46" width="8.23" height="8.28" fill="#ffff14"/><rect x="3000.39" y="936.46" width="8.23" height="8.28" fill="#dba42c"/><rect x="3008.32" y="936.46" width="8.23" height="8.28" fill="#dcdce4"/><rect x="3016.24" y="936.46" width="16.16" height="8.28" fill="#7464d4"/><rect x="2778.40" y="944.44" width="16.16" height="8.28" fill="#00008a"/><rect x="2794.26" y="944.44" width="8.23" height="8.28" fill="#44dccc"/><rect x="2802.18" y="944.44" width="16.16" height="8.28" fill="#dcdce4"/><rect x="2818.04" y="944.44" width="8.23" height="8.28" fill="#fae0c4"/><rect x="2825.97" y="944.44" width="8.23" height="8.28" fill="#dcdce4"/><rect x="2833.90" y="944.44" width="8.23" height="8.28" fill="#44dccc"/><rect x="2841.82" y="944.44" width="32.01" height="8.28" fill="#dcdce4"/><rect x="2873.54" y="944.44" width="16.16" height="8.28" fill="#fae0c4"/><rect x="2889.39" y="944.44" width="8.23" height="8.28" fill="#dcdce4"/><rect x="2897.32" y="944.44" width="16.16" height="8.28" fill="#dba42c"/><rect x="2913.18" y="944.44" width="16.16" height="8.28" fill="#f2a474"/><rect x="2929.03" y="944.44" width="8.23" height="8.28" fill="#ffff14"/><rect x="2936.96" y="944.44" width="8.23" height="8.28" fill="#f2a474"/><rect x="2944.89" y="944.44" width="16.16" height="8.28" fill="#ec0c0c"/><rect x="2960.75" y="944.44" width="8.23" height="8.28" fill="#f4845a"/><rect x="2968.68" y="944.44" width="16.16" height="8.28" fill="#f2a474"/><rect x="2984.53" y="944.44" width="16.16" height="8.28" fill="#ffff14"/><rect x="3000.39" y="944.44" width="8.23" height="8.28" fill="#fae0c4"/><rect x="3008.32" y="944.44" width="8.23" height="8.28" fill="#dcdce4"/><rect x="3016.24" y="944.44" width="16.16" height="8.28" fill="#7464d4"/><rect x="2778.40" y="952.42" width="16.16" height="8.28" fill="#00008a"/><rect x="2794.26" y="952.42" width="8.23" height="8.28" fill="#44dccc"/><rect x="2802.18" y="952.42" width="16.16" height="8.28" fill="#dcdce4"/><rect x="2818.04" y="952.42" width="16.16" height="8.28" fill="#fae0c4"/><rect x="2833.90" y="952.42" width="32.01" height="8.28" fill="#44dccc"/><rect x="2865.61" y="952.42" width="24.08" height="8.28" fill="#dcdce4"/><rect x="2889.39" y="952.42" width="16.16" height="8.28" fill="#fae0c4"/><rect x="2905.25" y="952.42" width="8.23" height="8.28" fill="#dba42c"/><rect x="2913.18" y="952.42" width="8.23" height="8.28" fill="#ffff14"/><rect x="2921.11" y="952.42" width="8.23" height="8.28" fill="#f2a474"/><rect x="2929.03" y="952.42" width="8.23" height="8.28" fill="#ffff14"/><rect x="2936.96" y="952.42" width="8.23" height="8.28" fill="#f2a474"/><rect x="2944.89" y="952.42" width="24.08" height="8.28" fill="#f4845a"/><rect x="2968.68" y="952.42" width="24.08" height="8.28" fill="#f2a474"/><rect x="2992.46" y="952.42" width="8.23" height="8.28" fill="#ffff14"/><rect x="3000.39" y="952.42" width="8.23" height="8.28" fill="#dba42c"/><rect x="3008.32" y="952.42" width="8.23" height="8.28" fill="#dcdce4"/><rect x="3016.24" y="952.42" width="8.23" height="8.28" fill="#7464d4"/><rect x="3024.17" y="952.42" width="8.23" height="8.28" fill="#00008a"/><rect x="2778.40" y="960.40" width="16.16" height="8.28" fill="#00008a"/><rect x="2794.26" y="960.40" width="8.23" height="8.28" fill="#44dccc"/><rect x="2802.18" y="960.40" width="16.16" height="8.28" fill="#dcdce4"/><rect x="2818.04" y="960.40" width="16.16" height="8.28" fill="#fae0c4"/><rect x="2833.90" y="960.40" width="47.87" height="8.28" fill="#dcdce4"/><rect x="2881.47" y="960.40" width="16.16" height="8.28" fill="#fae0c4"/><rect x="2897.32" y="960.40" width="8.23" height="8.28" fill="#dba42c"/><rect x="2905.25" y="960.40" width="8.23" height="8.28" fill="#ffff14"/><rect x="2913.18" y="960.40" width="16.16" height="8.28" fill="#f2a474"/><rect x="2929.03" y="960.40" width="8.23" height="8.28" fill="#f4845a"/><rect x="2936.96" y="960.40" width="24.08" height="8.28" fill="#ec0c0c"/><rect x="2960.75" y="960.40" width="8.23" height="8.28" fill="#f4845a"/><rect x="2968.68" y="960.40" width="8.23" height="8.28" fill="#f2a474"/><rect x="2976.60" y="960.40" width="8.23" height="8.28" fill="#ffff14"/><rect x="2984.53" y="960.40" width="8.23" height="8.28" fill="#dba42c"/><rect x="2992.46" y="960.40" width="8.23" height="8.28" fill="#ffff14"/><rect x="3000.39" y="960.40" width="8.23" height="8.28" fill="#dcdce4"/><rect x="3008.32" y="960.40" width="24.08" height="8.28" fill="#7464d4"/><rect x="2778.40" y="968.38" width="16.16" height="8.28" fill="#00008a"/><rect x="2794.26" y="968.38" width="8.23" height="8.28" fill="#44dccc"/><rect x="2802.18" y="968.38" width="16.16" height="8.28" fill="#dcdce4"/><rect x="2818.04" y="968.38" width="16.16" height="8.28" fill="#fae0c4"/><rect x="2833.90" y="968.38" width="32.01" height="8.28" fill="#dcdce4"/><rect x="2865.61" y="968.38" width="16.16" height="8.28" fill="#fae0c4"/><rect x="2881.47" y="968.38" width="8.23" height="8.28" fill="#dcdce4"/><rect x="2889.39" y="968.38" width="16.16" height="8.28" fill="#fae0c4"/><rect x="2905.25" y="968.38" width="16.16" height="8.28" fill="#ffff14"/><rect x="2921.11" y="968.38" width="16.16" height="8.28" fill="#f2a474"/><rect x="2936.96" y="968.38" width="8.23" height="8.28" fill="#f4845a"/><rect x="2944.89" y="968.38" width="8.23" height="8.28" fill="#f2a474"/><rect x="2952.82" y="968.38" width="24.08" height="8.28" fill="#ec0c0c"/><rect x="2976.60" y="968.38" width="8.23" height="8.28" fill="#f2a474"/><rect x="2984.53" y="968.38" width="8.23" height="8.28" fill="#dba42c"/><rect x="2992.46" y="968.38" width="8.23" height="8.28" fill="#fae0c4"/><rect x="3000.39" y="968.38" width="16.16" height="8.28" fill="#dcdce4"/><rect x="3016.24" y="968.38" width="16.16" height="8.28" fill="#7464d4"/><rect x="2778.40" y="976.36" width="16.16" height="8.28" fill="#00008a"/><rect x="2794.26" y="976.36" width="8.23" height="8.28" fill="#7464d4"/><rect x="2802.18" y="976.36" width="8.23" height="8.28" fill="#44dccc"/><rect x="2810.11" y="976.36" width="8.23" height="8.28" fill="#dcdce4"/><rect x="2818.04" y="976.36" width="8.23" height="8.28" fill="#44dccc"/><rect x="2825.97" y="976.36" width="39.94" height="8.28" fill="#dcdce4"/><rect x="2865.61" y="976.36" width="39.94" height="8.28" fill="#fae0c4"/><rect x="2905.25" y="976.36" width="16.16" height="8.28" fill="#dba42c"/><rect x="2921.11" y="976.36" width="8.23" height="8.28" fill="#ffff14"/><rect x="2929.03" y="976.36" width="47.87" height="8.28" fill="#f2a474"/><rect x="2976.60" y="976.36" width="16.16" height="8.28" fill="#ffff14"/><rect x="2992.46" y="976.36" width="16.16" height="8.28" fill="#fae0c4"/><rect x="3008.32" y="976.36" width="8.23" height="8.28" fill="#dcdce4"/><rect x="3016.24" y="976.36" width="8.23" height="8.28" fill="#7464d4"/><rect x="3024.17" y="976.36" width="8.23" height="8.28" fill="#00008a"/><rect x="2778.40" y="984.35" width="16.16" height="8.28" fill="#00008a"/><rect x="2794.26" y="984.35" width="8.23" height="8.28" fill="#7464d4"/><rect x="2802.18" y="984.35" width="32.01" height="8.28" fill="#44dccc"/><rect x="2833.90" y="984.35" width="8.23" height="8.28" fill="#dcdce4"/><rect x="2841.82" y="984.35" width="8.23" height="8.28" fill="#44dccc"/><rect x="2849.75" y="984.35" width="24.08" height="8.28" fill="#dcdce4"/><rect x="2873.54" y="984.35" width="8.23" height="8.28" fill="#fae0c4"/><rect x="2881.47" y="984.35" width="16.16" height="8.28" fill="#dba42c"/><rect x="2897.32" y="984.35" width="16.16" height="8.28" fill="#fae0c4"/><rect x="2913.18" y="984.35" width="16.16" height="8.28" fill="#dba42c"/><rect x="2929.03" y="984.35" width="8.23" height="8.28" fill="#ffff14"/><rect x="2936.96" y="984.35" width="39.94" height="8.28" fill="#f2a474"/><rect x="2976.60" y="984.35" width="16.16" height="8.28" fill="#ffff14"/><rect x="2992.46" y="984.35" width="8.23" height="8.28" fill="#dba42c"/><rect x="3000.39" y="984.35" width="8.23" height="8.28" fill="#fae0c4"/><rect x="3008.32" y="984.35" width="8.23" height="8.28" fill="#dcdce4"/><rect x="3016.24" y="984.35" width="16.16" height="8.28" fill="#7464d4"/><rect x="2778.40" y="992.33" width="16.16" height="8.28" fill="#00008a"/><rect x="2794.26" y="992.33" width="8.23" height="8.28" fill="#7464d4"/><rect x="2802.18" y="992.33" width="16.16" height="8.28" fill="#44dccc"/><rect x="2818.04" y="992.33" width="47.87" height="8.28" fill="#dcdce4"/><rect x="2865.61" y="992.33" width="32.01" height="8.28" fill="#fae0c4"/><rect x="2897.32" y="992.33" width="16.16" height="8.28" fill="#dba42c"/><rect x="2913.18" y="992.33" width="24.08" height="8.28" fill="#dcdce4"/><rect x="2936.96" y="992.33" width="8.23" height="8.28" fill="#fae0c4"/><rect x="2944.89" y="992.33" width="16.16" height="8.28" fill="#ffff14"/><rect x="2960.75" y="992.33" width="16.16" height="8.28" fill="#f2a474"/><rect x="2976.60" y="992.33" width="16.16" height="8.28" fill="#ffff14"/><rect x="2992.46" y="992.33" width="16.16" height="8.28" fill="#fae0c4"/><rect x="3008.32" y="992.33" width="8.23" height="8.28" fill="#dcdce4"/><rect x="3016.24" y="992.33" width="8.23" height="8.28" fill="#00008a"/><rect x="3024.17" y="992.33" width="8.23" height="8.28" fill="#7464d4"/><rect x="2778.40" y="1000.31" width="16.16" height="8.28" fill="#00008a"/><rect x="2794.26" y="1000.31" width="8.23" height="8.28" fill="#7464d4"/><rect x="2802.18" y="1000.31" width="16.16" height="8.28" fill="#44dccc"/><rect x="2818.04" y="1000.31" width="55.80" height="8.28" fill="#dcdce4"/><rect x="2873.54" y="1000.31" width="8.23" height="8.28" fill="#fae0c4"/><rect x="2881.47" y="1000.31" width="32.01" height="8.28" fill="#dba42c"/><rect x="2913.18" y="1000.31" width="24.08" height="8.28" fill="#dcdce4"/><rect x="2936.96" y="1000.31" width="8.23" height="8.28" fill="#dba42c"/><rect x="2944.89" y="1000.31" width="16.16" height="8.28" fill="#f2a474"/><rect x="2960.75" y="1000.31" width="8.23" height="8.28" fill="#ffff14"/><rect x="2968.68" y="1000.31" width="8.23" height="8.28" fill="#f2a474"/><rect x="2976.60" y="1000.31" width="16.16" height="8.28" fill="#ffff14"/><rect x="2992.46" y="1000.31" width="8.23" height="8.28" fill="#fae0c4"/><rect x="3000.39" y="1000.31" width="16.16" height="8.28" fill="#dcdce4"/><rect x="3016.24" y="1000.31" width="16.16" height="8.28" fill="#00008a"/><rect x="2778.40" y="1008.29" width="16.16" height="8.28" fill="#00008a"/><rect x="2794.26" y="1008.29" width="32.01" height="8.28" fill="#44dccc"/><rect x="2825.97" y="1008.29" width="16.16" height="8.28" fill="#dcdce4"/><rect x="2841.82" y="1008.29" width="32.01" height="8.28" fill="#dba42c"/><rect x="2873.54" y="1008.29" width="39.94" height="8.28" fill="#ffff14"/><rect x="2913.18" y="1008.29" width="8.23" height="8.28" fill="#dba42c"/><rect x="2921.11" y="1008.29" width="16.16" height="8.28" fill="#dcdce4"/><rect x="2936.96" y="1008.29" width="8.23" height="8.28" fill="#dba42c"/><rect x="2944.89" y="1008.29" width="8.23" height="8.28" fill="#fae0c4"/><rect x="2952.82" y="1008.29" width="32.01" height="8.28" fill="#dba42c"/><rect x="2984.53" y="1008.29" width="8.23" height="8.28" fill="#fae0c4"/><rect x="2992.46" y="1008.29" width="8.23" height="8.28" fill="#dcdce4"/><rect x="3000.39" y="1008.29" width="16.16" height="8.28" fill="#44dccc"/><rect x="3016.24" y="1008.29" width="8.23" height="8.28" fill="#7464d4"/><rect x="3024.17" y="1008.29" width="8.23" height="8.28" fill="#00008a"/><rect x="2778.40" y="1016.27" width="16.16" height="8.28" fill="#00008a"/><rect x="2794.26" y="1016.27" width="8.23" height="8.28" fill="#7464d4"/><rect x="2802.18" y="1016.27" width="24.08" height="8.28" fill="#44dccc"/><rect x="2825.97" y="1016.27" width="16.16" height="8.28" fill="#dcdce4"/><rect x="2841.82" y="1016.27" width="16.16" height="8.28" fill="#dba42c"/><rect x="2857.68" y="1016.27" width="47.87" height="8.28" fill="#ffff14"/><rect x="2905.25" y="1016.27" width="16.16" height="8.28" fill="#dba42c"/><rect x="2921.11" y="1016.27" width="24.08" height="8.28" fill="#dcdce4"/><rect x="2944.89" y="1016.27" width="16.16" height="8.28" fill="#44dccc"/><rect x="2960.75" y="1016.27" width="32.01" height="8.28" fill="#dcdce4"/><rect x="2992.46" y="1016.27" width="8.23" height="8.28" fill="#7464d4"/><rect x="3000.39" y="1016.27" width="8.23" height="8.28" fill="#44dccc"/><rect x="3008.32" y="1016.27" width="8.23" height="8.28" fill="#7464d4"/><rect x="3016.24" y="1016.27" width="16.16" height="8.28" fill="#00008a"/><rect x="2778.40" y="1024.25" width="16.16" height="8.28" fill="#00008a"/><rect x="2794.26" y="1024.25" width="8.23" height="8.28" fill="#7464d4"/><rect x="2802.18" y="1024.25" width="16.16" height="8.28" fill="#44dccc"/><rect x="2818.04" y="1024.25" width="16.16" height="8.28" fill="#dcdce4"/><rect x="2833.90" y="1024.25" width="8.23" height="8.28" fill="#ffff14"/><rect x="2841.82" y="1024.25" width="16.16" height="8.28" fill="#dba42c"/><rect x="2857.68" y="1024.25" width="8.23" height="8.28" fill="#ffff14"/><rect x="2865.61" y="1024.25" width="8.23" height="8.28" fill="#dba42c"/><rect x="2873.54" y="1024.25" width="24.08" height="8.28" fill="#ffff14"/><rect x="2897.32" y="1024.25" width="16.16" height="8.28" fill="#dba42c"/><rect x="2913.18" y="1024.25" width="24.08" height="8.28" fill="#dcdce4"/><rect x="2936.96" y="1024.25" width="8.23" height="8.28" fill="#44dccc"/><rect x="2944.89" y="1024.25" width="16.16" height="8.28" fill="#dcdce4"/><rect x="2960.75" y="1024.25" width="32.01" height="8.28" fill="#44dccc"/><rect x="2992.46" y="1024.25" width="8.23" height="8.28" fill="#7464d4"/><rect x="3000.39" y="1024.25" width="8.23" height="8.28" fill="#44dccc"/><rect x="3008.32" y="1024.25" width="8.23" height="8.28" fill="#7464d4"/><rect x="3016.24" y="1024.25" width="16.16" height="8.28" fill="#00008a"/><rect x="2778.40" y="1032.23" width="16.16" height="8.28" fill="#00008a"/><rect x="2794.26" y="1032.23" width="8.23" height="8.28" fill="#44dccc"/><rect x="2802.18" y="1032.23" width="16.16" height="8.28" fill="#dcdce4"/><rect x="2818.04" y="1032.23" width="16.16" height="8.28" fill="#fae0c4"/><rect x="2833.90" y="1032.23" width="8.23" height="8.28" fill="#dba42c"/><rect x="2841.82" y="1032.23" width="32.01" height="8.28" fill="#f2a474"/><rect x="2873.54" y="1032.23" width="24.08" height="8.28" fill="#ffff14"/><rect x="2897.32" y="1032.23" width="16.16" height="8.28" fill="#dba42c"/><rect x="2913.18" y="1032.23" width="39.94" height="8.28" fill="#dcdce4"/><rect x="2952.82" y="1032.23" width="16.16" height="8.28" fill="#7464d4"/><rect x="2968.68" y="1032.23" width="16.16" height="8.28" fill="#44dccc"/><rect x="2984.53" y="1032.23" width="32.01" height="8.28" fill="#7464d4"/><rect x="3016.24" y="1032.23" width="16.16" height="8.28" fill="#00008a"/><rect x="2778.40" y="1040.21" width="8.23" height="8.28" fill="#00008a"/><rect x="2786.33" y="1040.21" width="8.23" height="8.28" fill="#7464d4"/><rect x="2794.26" y="1040.21" width="8.23" height="8.28" fill="#44dccc"/><rect x="2802.18" y="1040.21" width="8.23" height="8.28" fill="#dcdce4"/><rect x="2810.11" y="1040.21" width="8.23" height="8.28" fill="#fae0c4"/><rect x="2818.04" y="1040.21" width="8.23" height="8.28" fill="#dba42c"/><rect x="2825.97" y="1040.21" width="8.23" height="8.28" fill="#ffff14"/><rect x="2833.90" y="1040.21" width="8.23" height="8.28" fill="#dba42c"/><rect x="2841.82" y="1040.21" width="39.94" height="8.28" fill="#f2a474"/><rect x="2881.47" y="1040.21" width="16.16" height="8.28" fill="#ffff14"/><rect x="2897.32" y="1040.21" width="8.23" height="8.28" fill="#fae0c4"/><rect x="2905.25" y="1040.21" width="8.23" height="8.28" fill="#dcdce4"/><rect x="2913.18" y="1040.21" width="8.23" height="8.28" fill="#fae0c4"/><rect x="2921.11" y="1040.21" width="8.23" height="8.28" fill="#dcdce4"/><rect x="2929.03" y="1040.21" width="24.08" height="8.28" fill="#44dccc"/><rect x="2952.82" y="1040.21" width="8.23" height="8.28" fill="#dcdce4"/><rect x="2960.75" y="1040.21" width="16.16" height="8.28" fill="#7464d4"/><rect x="2976.60" y="1040.21" width="16.16" height="8.28" fill="#44dccc"/><rect x="2992.46" y="1040.21" width="24.08" height="8.28" fill="#7464d4"/><rect x="3016.24" y="1040.21" width="16.16" height="8.28" fill="#00008a"/><rect x="2778.40" y="1048.19" width="16.16" height="8.28" fill="#00008a"/><rect x="2794.26" y="1048.19" width="8.23" height="8.28" fill="#44dccc"/><rect x="2802.18" y="1048.19" width="8.23" height="8.28" fill="#dcdce4"/><rect x="2810.11" y="1048.19" width="8.23" height="8.28" fill="#fae0c4"/><rect x="2818.04" y="1048.19" width="8.23" height="8.28" fill="#dba42c"/><rect x="2825.97" y="1048.19" width="8.23" height="8.28" fill="#ffff14"/><rect x="2833.90" y="1048.19" width="8.23" height="8.28" fill="#f2a474"/><rect x="2841.82" y="1048.19" width="24.08" height="8.28" fill="#f4845a"/><rect x="2865.61" y="1048.19" width="24.08" height="8.28" fill="#f2a474"/><rect x="2889.39" y="1048.19" width="8.23" height="8.28" fill="#ffff14"/><rect x="2897.32" y="1048.19" width="8.23" height="8.28" fill="#dba42c"/><rect x="2905.25" y="1048.19" width="8.23" height="8.28" fill="#fae0c4"/><rect x="2913.18" y="1048.19" width="8.23" height="8.28" fill="#dcdce4"/><rect x="2921.11" y="1048.19" width="39.94" height="8.28" fill="#44dccc"/><rect x="2960.75" y="1048.19" width="16.16" height="8.28" fill="#7464d4"/><rect x="2976.60" y="1048.19" width="24.08" height="8.28" fill="#44dccc"/><rect x="3000.39" y="1048.19" width="16.16" height="8.28" fill="#7464d4"/><rect x="3016.24" y="1048.19" width="16.16" height="8.28" fill="#00008a"/><rect x="2778.40" y="1056.17" width="16.16" height="8.28" fill="#7464d4"/><rect x="2794.26" y="1056.17" width="8.23" height="8.28" fill="#44dccc"/><rect x="2802.18" y="1056.17" width="8.23" height="8.28" fill="#fae0c4"/><rect x="2810.11" y="1056.17" width="16.16" height="8.28" fill="#dba42c"/><rect x="2825.97" y="1056.17" width="8.23" height="8.28" fill="#ffff14"/><rect x="2833.90" y="1056.17" width="16.16" height="8.28" fill="#f2a474"/><rect x="2849.75" y="1056.17" width="8.23" height="8.28" fill="#f4845a"/><rect x="2857.68" y="1056.17" width="32.01" height="8.28" fill="#f2a474"/><rect x="2889.39" y="1056.17" width="16.16" height="8.28" fill="#ffff14"/><rect x="2905.25" y="1056.17" width="8.23" height="8.28" fill="#fae0c4"/><rect x="2913.18" y="1056.17" width="8.23" height="8.28" fill="#dcdce4"/><rect x="2921.11" y="1056.17" width="16.16" height="8.28" fill="#44dccc"/><rect x="2936.96" y="1056.17" width="8.23" height="8.28" fill="#7464d4"/><rect x="2944.89" y="1056.17" width="16.16" height="8.28" fill="#44dccc"/><rect x="2960.75" y="1056.17" width="55.80" height="8.28" fill="#7464d4"/><rect x="3016.24" y="1056.17" width="16.16" height="8.28" fill="#00008a"/><rect x="2778.40" y="1064.15" width="8.23" height="8.28" fill="#00008a"/><rect x="2786.33" y="1064.15" width="8.23" height="8.28" fill="#7464d4"/><rect x="2794.26" y="1064.15" width="8.23" height="8.28" fill="#44dccc"/><rect x="2802.18" y="1064.15" width="8.23" height="8.28" fill="#fae0c4"/><rect x="2810.11" y="1064.15" width="16.16" height="8.28" fill="#dba42c"/><rect x="2825.97" y="1064.15" width="8.23" height="8.28" fill="#ffff14"/><rect x="2833.90" y="1064.15" width="8.23" height="8.28" fill="#f2a474"/><rect x="2841.82" y="1064.15" width="8.23" height="8.28" fill="#f4845a"/><rect x="2849.75" y="1064.15" width="39.94" height="8.28" fill="#f2a474"/><rect x="2889.39" y="1064.15" width="8.23" height="8.28" fill="#ffff14"/><rect x="2897.32" y="1064.15" width="8.23" height="8.28" fill="#dba42c"/><rect x="2905.25" y="1064.15" width="8.23" height="8.28" fill="#fae0c4"/><rect x="2913.18" y="1064.15" width="8.23" height="8.28" fill="#dcdce4"/><rect x="2921.11" y="1064.15" width="39.94" height="8.28" fill="#44dccc"/><rect x="2960.75" y="1064.15" width="55.80" height="8.28" fill="#7464d4"/><rect x="3016.24" y="1064.15" width="16.16" height="8.28" fill="#00008a"/><rect x="2778.40" y="1072.13" width="16.16" height="8.28" fill="#00008a"/><rect x="2794.26" y="1072.13" width="8.23" height="8.28" fill="#44dccc"/><rect x="2802.18" y="1072.13" width="8.23" height="8.28" fill="#dcdce4"/><rect x="2810.11" y="1072.13" width="8.23" height="8.28" fill="#fae0c4"/><rect x="2818.04" y="1072.13" width="8.23" height="8.28" fill="#dba42c"/><rect x="2825.97" y="1072.13" width="8.23" height="8.28" fill="#ffff14"/><rect x="2833.90" y="1072.13" width="32.01" height="8.28" fill="#f2a474"/><rect x="2865.61" y="1072.13" width="32.01" height="8.28" fill="#ffff14"/><rect x="2897.32" y="1072.13" width="8.23" height="8.28" fill="#dba42c"/><rect x="2905.25" y="1072.13" width="8.23" height="8.28" fill="#fae0c4"/><rect x="2913.18" y="1072.13" width="8.23" height="8.28" fill="#dcdce4"/><rect x="2921.11" y="1072.13" width="16.16" height="8.28" fill="#44dccc"/><rect x="2936.96" y="1072.13" width="32.01" height="8.28" fill="#7464d4"/><rect x="2968.68" y="1072.13" width="8.23" height="8.28" fill="#44dccc"/><rect x="2976.60" y="1072.13" width="39.94" height="8.28" fill="#7464d4"/><rect x="3016.24" y="1072.13" width="16.16" height="8.28" fill="#00008a"/><rect x="2778.40" y="1080.11" width="16.16" height="8.28" fill="#00008a"/><rect x="2794.26" y="1080.11" width="8.23" height="8.28" fill="#44dccc"/><rect x="2802.18" y="1080.11" width="8.23" height="8.28" fill="#dcdce4"/><rect x="2810.11" y="1080.11" width="8.23" height="8.28" fill="#fae0c4"/><rect x="2818.04" y="1080.11" width="8.23" height="8.28" fill="#dba42c"/><rect x="2825.97" y="1080.11" width="16.16" height="8.28" fill="#ffff14"/><rect x="2841.82" y="1080.11" width="32.01" height="8.28" fill="#f2a474"/><rect x="2873.54" y="1080.11" width="32.01" height="8.28" fill="#ffff14"/><rect x="2905.25" y="1080.11" width="8.23" height="8.28" fill="#dba42c"/><rect x="2913.18" y="1080.11" width="16.16" height="8.28" fill="#dcdce4"/><rect x="2929.03" y="1080.11" width="32.01" height="8.28" fill="#44dccc"/><rect x="2960.75" y="1080.11" width="39.94" height="8.28" fill="#7464d4"/><rect x="3000.39" y="1080.11" width="8.23" height="8.28" fill="#00008a"/><rect x="3008.32" y="1080.11" width="8.23" height="8.28" fill="#7464d4"/><rect x="3016.24" y="1080.11" width="16.16" height="8.28" fill="#00008a"/><rect x="2778.40" y="1088.09" width="16.16" height="8.28" fill="#00008a"/><rect x="2794.26" y="1088.09" width="8.23" height="8.28" fill="#44dccc"/><rect x="2802.18" y="1088.09" width="8.23" height="8.28" fill="#dcdce4"/><rect x="2810.11" y="1088.09" width="8.23" height="8.28" fill="#fae0c4"/><rect x="2818.04" y="1088.09" width="16.16" height="8.28" fill="#dba42c"/><rect x="2833.90" y="1088.09" width="8.23" height="8.28" fill="#ffff14"/><rect x="2841.82" y="1088.09" width="16.16" height="8.28" fill="#f2a474"/><rect x="2857.68" y="1088.09" width="8.23" height="8.28" fill="#f4845a"/><rect x="2865.61" y="1088.09" width="8.23" height="8.28" fill="#f2a474"/><rect x="2873.54" y="1088.09" width="24.08" height="8.28" fill="#ffff14"/><rect x="2897.32" y="1088.09" width="8.23" height="8.28" fill="#dba42c"/><rect x="2905.25" y="1088.09" width="8.23" height="8.28" fill="#fae0c4"/><rect x="2913.18" y="1088.09" width="16.16" height="8.28" fill="#44dccc"/><rect x="2929.03" y="1088.09" width="8.23" height="8.28" fill="#dcdce4"/><rect x="2936.96" y="1088.09" width="24.08" height="8.28" fill="#44dccc"/><rect x="2960.75" y="1088.09" width="8.23" height="8.28" fill="#7464d4"/><rect x="2968.68" y="1088.09" width="8.23" height="8.28" fill="#44dccc"/><rect x="2976.60" y="1088.09" width="39.94" height="8.28" fill="#7464d4"/><rect x="3016.24" y="1088.09" width="16.16" height="8.28" fill="#00008a"/><rect x="2778.40" y="1096.07" width="16.16" height="8.28" fill="#00008a"/><rect x="2794.26" y="1096.07" width="8.23" height="8.28" fill="#44dccc"/><rect x="2802.18" y="1096.07" width="8.23" height="8.28" fill="#dcdce4"/><rect x="2810.11" y="1096.07" width="16.16" height="8.28" fill="#dba42c"/><rect x="2825.97" y="1096.07" width="8.23" height="8.28" fill="#ffff14"/><rect x="2833.90" y="1096.07" width="39.94" height="8.28" fill="#f2a474"/><rect x="2873.54" y="1096.07" width="24.08" height="8.28" fill="#ffff14"/><rect x="2897.32" y="1096.07" width="8.23" height="8.28" fill="#dba42c"/><rect x="2905.25" y="1096.07" width="8.23" height="8.28" fill="#dcdce4"/><rect x="2913.18" y="1096.07" width="39.94" height="8.28" fill="#44dccc"/><rect x="2952.82" y="1096.07" width="63.72" height="8.28" fill="#7464d4"/><rect x="3016.24" y="1096.07" width="16.16" height="8.28" fill="#00008a"/><rect x="2778.40" y="1104.05" width="8.23" height="8.28" fill="#00008a"/><rect x="2786.33" y="1104.05" width="8.23" height="8.28" fill="#7464d4"/><rect x="2794.26" y="1104.05" width="8.23" height="8.28" fill="#44dccc"/><rect x="2802.18" y="1104.05" width="8.23" height="8.28" fill="#dcdce4"/><rect x="2810.11" y="1104.05" width="8.23" height="8.28" fill="#fae0c4"/><rect x="2818.04" y="1104.05" width="8.23" height="8.28" fill="#dba42c"/><rect x="2825.97" y="1104.05" width="55.80" height="8.28" fill="#ffff14"/><rect x="2881.47" y="1104.05" width="16.16" height="8.28" fill="#dba42c"/><rect x="2897.32" y="1104.05" width="8.23" height="8.28" fill="#fae0c4"/><rect x="2905.25" y="1104.05" width="16.16" height="8.28" fill="#44dccc"/><rect x="2921.11" y="1104.05" width="8.23" height="8.28" fill="#dcdce4"/><rect x="2929.03" y="1104.05" width="8.23" height="8.28" fill="#44dccc"/><rect x="2936.96" y="1104.05" width="8.23" height="8.28" fill="#7464d4"/><rect x="2944.89" y="1104.05" width="8.23" height="8.28" fill="#44dccc"/><rect x="2952.82" y="1104.05" width="63.72" height="8.28" fill="#7464d4"/><rect x="3016.24" y="1104.05" width="16.16" height="8.28" fill="#00008a"/><rect x="2778.40" y="1112.04" width="16.16" height="8.28" fill="#00008a"/><rect x="2794.26" y="1112.04" width="8.23" height="8.28" fill="#44dccc"/><rect x="2802.18" y="1112.04" width="8.23" height="8.28" fill="#fae0c4"/><rect x="2810.11" y="1112.04" width="8.23" height="8.28" fill="#dcdce4"/><rect x="2818.04" y="1112.04" width="8.23" height="8.28" fill="#dba42c"/><rect x="2825.97" y="1112.04" width="55.80" height="8.28" fill="#ffff14"/><rect x="2881.47" y="1112.04" width="16.16" height="8.28" fill="#dba42c"/><rect x="2897.32" y="1112.04" width="8.23" height="8.28" fill="#fae0c4"/><rect x="2905.25" y="1112.04" width="8.23" height="8.28" fill="#44dccc"/><rect x="2913.18" y="1112.04" width="8.23" height="8.28" fill="#dcdce4"/><rect x="2921.11" y="1112.04" width="16.16" height="8.28" fill="#44dccc"/><rect x="2936.96" y="1112.04" width="8.23" height="8.28" fill="#7464d4"/><rect x="2944.89" y="1112.04" width="8.23" height="8.28" fill="#dcdce4"/><rect x="2952.82" y="1112.04" width="8.23" height="8.28" fill="#44dccc"/><rect x="2960.75" y="1112.04" width="47.87" height="8.28" fill="#7464d4"/><rect x="3008.32" y="1112.04" width="24.08" height="8.28" fill="#00008a"/><rect x="2778.40" y="1120.02" width="16.16" height="8.28" fill="#00008a"/><rect x="2794.26" y="1120.02" width="8.23" height="8.28" fill="#44dccc"/><rect x="2802.18" y="1120.02" width="8.23" height="8.28" fill="#dcdce4"/><rect x="2810.11" y="1120.02" width="8.23" height="8.28" fill="#fae0c4"/><rect x="2818.04" y="1120.02" width="8.23" height="8.28" fill="#dba42c"/><rect x="2825.97" y="1120.02" width="55.80" height="8.28" fill="#ffff14"/><rect x="2881.47" y="1120.02" width="16.16" height="8.28" fill="#dba42c"/><rect x="2897.32" y="1120.02" width="8.23" height="8.28" fill="#fae0c4"/><rect x="2905.25" y="1120.02" width="32.01" height="8.28" fill="#dcdce4"/><rect x="2936.96" y="1120.02" width="8.23" height="8.28" fill="#44dccc"/><rect x="2944.89" y="1120.02" width="16.16" height="8.28" fill="#dcdce4"/><rect x="2960.75" y="1120.02" width="32.01" height="8.28" fill="#44dccc"/><rect x="2992.46" y="1120.02" width="24.08" height="8.28" fill="#7464d4"/><rect x="3016.24" y="1120.02" width="16.16" height="8.28" fill="#00008a"/><rect x="2778.40" y="1128.00" width="16.16" height="8.28" fill="#00008a"/><rect x="2794.26" y="1128.00" width="8.23" height="8.28" fill="#44dccc"/><rect x="2802.18" y="1128.00" width="8.23" height="8.28" fill="#dcdce4"/><rect x="2810.11" y="1128.00" width="8.23" height="8.28" fill="#fae0c4"/><rect x="2818.04" y="1128.00" width="8.23" height="8.28" fill="#dba42c"/><rect x="2825.97" y="1128.00" width="8.23" height="8.28" fill="#ffff14"/><rect x="2833.90" y="1128.00" width="8.23" height="8.28" fill="#dba42c"/><rect x="2841.82" y="1128.00" width="39.94" height="8.28" fill="#ffff14"/><rect x="2881.47" y="1128.00" width="24.08" height="8.28" fill="#dba42c"/><rect x="2905.25" y="1128.00" width="16.16" height="8.28" fill="#ffff14"/><rect x="2921.11" y="1128.00" width="8.23" height="8.28" fill="#f2a474"/><rect x="2929.03" y="1128.00" width="8.23" height="8.28" fill="#ffff14"/><rect x="2936.96" y="1128.00" width="8.23" height="8.28" fill="#f2a474"/><rect x="2944.89" y="1128.00" width="16.16" height="8.28" fill="#fae0c4"/><rect x="2960.75" y="1128.00" width="16.16" height="8.28" fill="#dcdce4"/><rect x="2976.60" y="1128.00" width="24.08" height="8.28" fill="#44dccc"/><rect x="3000.39" y="1128.00" width="16.16" height="8.28" fill="#7464d4"/><rect x="3016.24" y="1128.00" width="16.16" height="8.28" fill="#00008a"/><rect x="2778.40" y="1135.98" width="16.16" height="8.28" fill="#00008a"/><rect x="2794.26" y="1135.98" width="8.23" height="8.28" fill="#44dccc"/><rect x="2802.18" y="1135.98" width="8.23" height="8.28" fill="#dcdce4"/><rect x="2810.11" y="1135.98" width="8.23" height="8.28" fill="#fae0c4"/><rect x="2818.04" y="1135.98" width="16.16" height="8.28" fill="#dba42c"/><rect x="2833.90" y="1135.98" width="8.23" height="8.28" fill="#fae0c4"/><rect x="2841.82" y="1135.98" width="32.01" height="8.28" fill="#ffff14"/><rect x="2873.54" y="1135.98" width="8.23" height="8.28" fill="#dba42c"/><rect x="2881.47" y="1135.98" width="32.01" height="8.28" fill="#ffff14"/><rect x="2913.18" y="1135.98" width="32.01" height="8.28" fill="#f2a474"/><rect x="2944.89" y="1135.98" width="8.23" height="8.28" fill="#ffff14"/><rect x="2952.82" y="1135.98" width="24.08" height="8.28" fill="#dba42c"/><rect x="2976.60" y="1135.98" width="24.08" height="8.28" fill="#fae0c4"/><rect x="3000.39" y="1135.98" width="8.23" height="8.28" fill="#7464d4"/><rect x="3008.32" y="1135.98" width="24.08" height="8.28" fill="#00008a"/><rect x="2778.40" y="1143.96" width="16.16" height="8.28" fill="#00008a"/><rect x="2794.26" y="1143.96" width="8.23" height="8.28" fill="#44dccc"/><rect x="2802.18" y="1143.96" width="8.23" height="8.28" fill="#dcdce4"/><rect x="2810.11" y="1143.96" width="8.23" height="8.28" fill="#fae0c4"/><rect x="2818.04" y="1143.96" width="8.23" height="8.28" fill="#dba42c"/><rect x="2825.97" y="1143.96" width="16.16" height="8.28" fill="#fae0c4"/><rect x="2841.82" y="1143.96" width="32.01" height="8.28" fill="#dba42c"/><rect x="2873.54" y="1143.96" width="24.08" height="8.28" fill="#ffff14"/><rect x="2897.32" y="1143.96" width="16.16" height="8.28" fill="#dba42c"/><rect x="2913.18" y="1143.96" width="8.23" height="8.28" fill="#ffff14"/><rect x="2921.11" y="1143.96" width="16.16" height="8.28" fill="#f2a474"/><rect x="2936.96" y="1143.96" width="32.01" height="8.28" fill="#ffff14"/><rect x="2968.68" y="1143.96" width="8.23" height="8.28" fill="#dba42c"/><rect x="2976.60" y="1143.96" width="24.08" height="8.28" fill="#fae0c4"/><rect x="3000.39" y="1143.96" width="8.23" height="8.28" fill="#44dccc"/><rect x="3008.32" y="1143.96" width="24.08" height="8.28" fill="#00008a"/><rect x="2778.40" y="1151.94" width="47.87" height="8.28" fill="#00008a"/><rect x="2825.97" y="1151.94" width="24.08" height="8.28" fill="#7464d4"/><rect x="2849.75" y="1151.94" width="24.08" height="8.28" fill="#44dccc"/><rect x="2873.54" y="1151.94" width="32.01" height="8.28" fill="#dcdce4"/><rect x="2905.25" y="1151.94" width="39.94" height="8.28" fill="#44dccc"/><rect x="2944.89" y="1151.94" width="47.87" height="8.28" fill="#7464d4"/><rect x="2992.46" y="1151.94" width="39.94" height="8.28" fill="#00008a"/><rect x="2778.40" y="1159.92" width="71.65" height="8.28" fill="#00008a"/><rect x="2849.75" y="1159.92" width="135.08" height="8.28" fill="#7464d4"/><rect x="2984.53" y="1159.92" width="47.87" height="8.28" fill="#00008a"/><path d="M2778.40,909.70V1167.90M2786.33,909.70V1167.90M2794.26,909.70V1167.90M2802.18,909.70V1167.90M2810.11,909.70V1167.90M2818.04,909.70V1167.90M2825.97,909.70V1167.90M2833.90,909.70V1167.90M2841.82,909.70V1167.90M2849.75,909.70V1167.90M2857.68,909.70V1167.90M2865.61,909.70V1167.90M2873.54,909.70V1167.90M2881.47,909.70V1167.90M2889.39,909.70V1167.90M2897.32,909.70V1167.90M2905.25,909.70V1167.90M2913.18,909.70V1167.90M2921.11,909.70V1167.90M2929.03,909.70V1167.90M2936.96,909.70V1167.90M2944.89,909.70V1167.90M2952.82,909.70V1167.90M2960.75,909.70V1167.90M2968.68,909.70V1167.90M2976.60,909.70V1167.90M2984.53,909.70V1167.90M2992.46,909.70V1167.90M3000.39,909.70V1167.90M3008.32,909.70V1167.90M3016.24,909.70V1167.90M3024.17,909.70V1167.90M3032.10,909.70V1167.90M2778.40,909.70H3032.10M2778.40,920.50H3032.10M2778.40,928.48H3032.10M2778.40,936.46H3032.10M2778.40,944.44H3032.10M2778.40,952.42H3032.10M2778.40,960.40H3032.10M2778.40,968.38H3032.10M2778.40,976.36H3032.10M2778.40,984.35H3032.10M2778.40,992.33H3032.10M2778.40,1000.31H3032.10M2778.40,1008.29H3032.10M2778.40,1016.27H3032.10M2778.40,1024.25H3032.10M2778.40,1032.23H3032.10M2778.40,1040.21H3032.10M2778.40,1048.19H3032.10M2778.40,1056.17H3032.10M2778.40,1064.15H3032.10M2778.40,1072.13H3032.10M2778.40,1080.11H3032.10M2778.40,1088.09H3032.10M2778.40,1096.07H3032.10M2778.40,1104.05H3032.10M2778.40,1112.04H3032.10M2778.40,1120.02H3032.10M2778.40,1128.00H3032.10M2778.40,1135.98H3032.10M2778.40,1143.96H3032.10M2778.40,1151.94H3032.10M2778.40,1159.92H3032.10M2778.40,1167.90H3032.10" stroke="#3a3020" stroke-width="0.7" opacity="0.75" fill="none"/>
<g transform="translate(625 1265) scale(0.3576)" ><rect x="25" y="25" width="1495" height="1550" fill="#ffffff" stroke="#333" stroke-width="14"/><path d="M60,1548 H1500 M1498,60 V1548" stroke="#6a8ac0" stroke-width="4"/><path d="M60,215 H1500" stroke="#dde2ea" stroke-width="4"/><text x="340" y="142" font-family="Liberation Sans" font-weight="bold" font-size="76" fill="#222" textLength="985" lengthAdjust="spacingAndGlyphs">Overlap Control Issues</text><rect x="82" y="190" width="445" height="140" rx="22" fill="none" stroke="#2f4fae" stroke-width="6"/><rect x="218" y="602" width="445" height="140" rx="22" fill="none" stroke="#2f4fae" stroke-width="6"/><rect x="218" y="1238" width="412" height="222" rx="28" fill="none" stroke="#2f4fae" stroke-width="6"/><text x="145" y="250" font-family="Liberation Sans" font-weight="bold" font-style="italic" font-size="50" fill="#2f4fae">OFFSET</text><text x="145" y="305" font-family="Liberation Sans" font-weight="bold" font-style="italic" font-size="50" fill="#2f4fae">SPACER t!</text><text x="280" y="662" font-family="Liberation Sans" font-weight="bold" font-style="italic" font-size="50" fill="#2f4fae">LATERAL</text><text x="280" y="717" font-family="Liberation Sans" font-weight="bold" font-style="italic" font-size="50" fill="#2f4fae">STRAGGLE!</text><text x="283" y="1310" font-family="Liberation Sans" font-weight="bold" font-style="italic" font-size="50" fill="#2f4fae">LATERAL</text><text x="283" y="1365" font-family="Liberation Sans" font-weight="bold" font-style="italic" font-size="50" fill="#2f4fae">DIFFUSION</text><text x="283" y="1420" font-family="Liberation Sans" font-weight="bold" font-style="italic" font-size="50" fill="#2f4fae">(TED)!</text><text x="680" y="270" font-family="Liberation Sans" font-weight="bold" font-size="58" fill="#2f4fae" textLength="677" lengthAdjust="spacingAndGlyphs">SDE implant process</text><text x="880" y="845" font-family="Liberation Sans" font-weight="bold" font-size="58" fill="#2f4fae" textLength="450" lengthAdjust="spacingAndGlyphs">RTA process</text><rect x="567" y="325" width="388" height="203" fill="#ac9cb4" /><rect x="567" y="525" width="388" height="27" fill="#cc9468" /><rect x="955" y="325" width="32" height="223" fill="#dcdcdc" /><rect x="565" y="870" width="420" height="208" fill="#ac9cb4" /><rect x="565" y="1075" width="420" height="27" fill="#cc9468" /><rect x="985" y="870" width="32" height="228" fill="#dcdcdc" /><text x="765" y="462" font-family="Liberation Sans" font-weight="bold" font-size="52" fill="#f4f0f4" text-anchor="middle">GATE</text><text x="765" y="1005" font-family="Liberation Sans" font-weight="bold" font-size="52" fill="#f4f0f4" text-anchor="middle">GATE</text><path d="M905,548 H1330 V692 H1180 C1050,690 920,660 905,548 Z" fill="#8cb4cc"/><path d="M987,548 H1330 V640 H1100 C1040,630 990,600 987,548 Z" fill="#2e8696"/><path d="M987,548 C990,600 1040,630 1100,640 H1330 V660 H1100 C1030,650 990,610 987,548Z" fill="#5ea0b4"/><path d="M775,1098 H1375 V1340 H1130 C930,1330 800,1250 775,1098 Z" fill="#a8c4dc"/><path d="M925,1098 H1375 V1270 H1150 C1020,1250 940,1190 925,1098 Z" fill="#6aa6c0"/><path d="M1010,1098 H1375 V1180 H1150 C1070,1170 1020,1140 1010,1098 Z" fill="#2e8696"/><text x="1208" y="598" font-family="Liberation Sans" font-weight="bold" font-size="50" fill="#ffffff" text-anchor="middle">SDE</text><text x="1208" y="1148" font-family="Liberation Sans" font-weight="bold" font-size="50" fill="#ffffff" text-anchor="middle">SDE</text><path d="M905,548 V690 M987,548 V690 M773,1100 V1385 M928,1100 V1385" stroke="#2f4fae" stroke-width="5"/><path d="M495,218 L955,378 M730,685 H880 M1175,685 H1010 M635,1348 H750 M1130,1348 H950" stroke="#2f4fae" stroke-width="5" fill="none"/><path d="M968,385 L915,388 L932,352 Z M900,685 L855,670 L855,700 Z M990,685 L1035,670 L1035,700 Z M765,1348 L720,1333 L720,1363 Z M940,1348 L985,1333 L985,1363 Z" fill="#2f4fae"/><path d="M1045,300 V480" stroke="#222" stroke-width="3"/><path d="M1045,490 L1038,468 L1052,468 Z" fill="#222"/><path d="M1120,300 V480" stroke="#222" stroke-width="3"/><path d="M1120,490 L1113,468 L1127,468 Z" fill="#222"/><path d="M1197,300 V480" stroke="#222" stroke-width="3"/><path d="M1197,490 L1190,468 L1204,468 Z" fill="#222"/><path d="M1268,300 V480" stroke="#222" stroke-width="3"/><path d="M1268,490 L1261,468 L1275,468 Z" fill="#222"/><path d="M1337,300 V480" stroke="#222" stroke-width="3"/><path d="M1337,490 L1330,468 L1344,468 Z" fill="#222"/><path d="M1185,1060 C1300,1020 1270,990 1200,975 C1080,950 1120,930 1200,940 C1290,950 1300,910 1190,915" stroke="#e04020" stroke-width="7" fill="none"/><path d="M1185,1095 L1160,1040 L1210,1040 Z" fill="#e04020"/><circle cx="950" cy="1245" r="18" fill="none" stroke="#333" stroke-width="4"/><circle cx="1045" cy="1212" r="14" fill="none" stroke="#333" stroke-width="4"/><circle cx="1007" cy="1290" r="10" fill="none" stroke="#333" stroke-width="4"/></g>
<g transform="translate(90 1340) scale(0.2886)" ><rect x="42" y="55" width="1590" height="762" fill="#e67e8e" /><rect x="183" y="263" width="832" height="394" fill="#8484c0" /><rect x="183" y="263" width="122" height="394" fill="#7c5098" /><rect x="1207" y="263" width="353" height="369" fill="#8484c0" /><rect x="138" y="960" width="357" height="367" fill="#8888c0" /><rect x="732" y="935" width="803" height="395" fill="#8888c0" /><rect x="327" y="145" width="95" height="1393" fill="#8ed04c" opacity="0.72"/><rect x="565" y="158" width="93" height="1390" fill="#8ed04c" opacity="0.72"/><rect x="825" y="158" width="93" height="1390" fill="#8ed04c" opacity="0.72"/><rect x="1063" y="158" width="94" height="1390" fill="#8ed04c" opacity="0.72"/><rect x="1300" y="170" width="93" height="1388" fill="#8ed04c" opacity="0.72"/></g>
<g transform="translate(1820 1560) scale(0.284)" ><clipPath id="semclip"><rect x="70" y="172" width="2213" height="828"/></clipPath><g clip-path="url(#semclip)"><rect x="70" y="172" width="2213" height="828" fill="#8a8a8a" /><rect x="70" y="172" width="2213" height="828" fill="url(#semgrad)"/><rect x="70" y="860" width="2213" height="140" fill="#a2a2a2" /><path d="M70,868 H2283" stroke="#c4c4c4" stroke-width="18" filter="url(#semb)"/><path d="M290,855 C330,700 370,580 420,510 L450,480 C520,420 620,390 725,380 L725,855 Z" fill="#979797" stroke="#c8c8c8" stroke-width="20" filter="url(#semb)"/><path d="M1625,375 C1740,390 1840,450 1880,520 C1930,620 1980,760 2035,855 L1625,855 Z" fill="#979797" stroke="#c8c8c8" stroke-width="20" filter="url(#semb)"/><path d="M660,400 V850" stroke="#a8a8a8" stroke-width="40" filter="url(#semb)"/><path d="M735,335 Q1170,312 1615,335 L1615,848 L725,848 Z" fill="#262626" filter="url(#semb)"/><path d="M735,330 Q1170,300 1615,330" stroke="#e6e6e6" stroke-width="34" fill="none" filter="url(#semb)"/><path d="M1618,340 V840" stroke="#b4b4b4" stroke-width="26" fill="none" filter="url(#semb)"/><path d="M735,345 V840" stroke="#6a6a6a" stroke-width="20" fill="none" filter="url(#semb)"/><path d="M770,580 C1000,540 1300,620 1570,580 M770,700 C1000,670 1300,740 1570,700 M800,460 C1050,430 1300,480 1560,450" stroke="#3c3c3c" stroke-width="26" fill="none" filter="url(#semb)"/></g><rect x="70" y="172" width="2213" height="828" fill="none" stroke="#333" stroke-width="8"/><ellipse cx="443" cy="354" rx="272" ry="303" fill="none" stroke="#d63c12" stroke-width="46"/></g>
<rect x="1262.5" y="818.3" width="427" height="196.5" rx="3" fill="#ffffff" stroke="#2f3198" stroke-width="8.7"/>
<rect x="1366.4" y="870.2" width="24.8" height="99.5" fill="#1470d2"/>
<rect x="1366.4" y="870.2" width="66.1" height="22.7" fill="#1470d2"/>
<rect x="1366.4" y="909.0" width="63.2" height="17.8" fill="#1470d2"/>
<rect x="1441.3" y="870.2" width="53.3" height="17.6" fill="#1470d2"/>
<rect x="1455.4" y="870.2" width="25.8" height="99.5" fill="#1470d2"/>
<rect x="1441.3" y="952.2" width="53.3" height="17.5" fill="#1470d2"/>
<rect x="1512.2" y="870.2" width="24.5" height="99.5" fill="#1470d2"/>
<rect x="1512.2" y="951.8" width="65.4" height="17.9" fill="#1470d2"/>
<rect x="1590.4" y="870.2" width="24.4" height="99.5" fill="#1470d2"/>
<rect x="1590.4" y="951.8" width="65.1" height="17.9" fill="#1470d2"/>
<rect x="1377.3" y="880.5" width="3.6" height="78.5" fill="#0a3f88"/>
<rect x="1466.5" y="880.5" width="3.6" height="78.5" fill="#0a3f88"/>
<rect x="1523.0" y="880.5" width="3.6" height="78.5" fill="#0a3f88"/>
<rect x="1601.0" y="880.5" width="3.6" height="78.5" fill="#0a3f88"/>
<text x="1195.9" y="176.8" font-size="242.01" font-weight="normal" textLength="121.3" lengthAdjust="spacingAndGlyphs" fill="#1c1c1c" >L</text><text x="1308.8" y="176.8" font-size="242.01" font-weight="normal" textLength="57.9" lengthAdjust="spacingAndGlyphs" fill="#1c1c1c" >i</text><text x="1362.3" y="176.8" font-size="242.01" font-weight="normal" textLength="82.1" lengthAdjust="spacingAndGlyphs" fill="#1c1c1c" >t</text><text x="1440.1" y="176.8" font-size="242.01" font-weight="normal" textLength="130.1" lengthAdjust="spacingAndGlyphs" fill="#1c1c1c" >h</text><text x="1565.1" y="176.8" font-size="242.01" font-weight="normal" textLength="132.5" lengthAdjust="spacingAndGlyphs" fill="#1c1c1c" >o</text>
<text x="63.4" y="477.0" font-size="242.74" font-weight="normal" textLength="130.8" lengthAdjust="spacingAndGlyphs" fill="#333333" >S</text><text x="190.5" y="477.0" font-size="242.74" font-weight="normal" textLength="81.5" lengthAdjust="spacingAndGlyphs" fill="#333333" >t</text><text x="265.6" y="477.0" font-size="242.74" font-weight="normal" textLength="90.3" lengthAdjust="spacingAndGlyphs" fill="#333333" >r</text><text x="348.1" y="477.0" font-size="242.74" font-weight="normal" textLength="128.1" lengthAdjust="spacingAndGlyphs" fill="#333333" >e</text><text x="474.0" y="477.0" font-size="242.74" font-weight="normal" textLength="99.2" lengthAdjust="spacingAndGlyphs" fill="#333333" >s</text><text x="576.2" y="477.0" font-size="242.74" font-weight="normal" textLength="105.5" lengthAdjust="spacingAndGlyphs" fill="#333333" >s</text>
<text x="2295.5" y="422.9" font-size="242.74" font-weight="normal" textLength="145.7" lengthAdjust="spacingAndGlyphs" fill="#333333" >C</text><text x="2435.2" y="422.9" font-size="242.74" font-weight="normal" textLength="180.1" lengthAdjust="spacingAndGlyphs" fill="#333333" >M</text><text x="2613.9" y="422.9" font-size="242.74" font-weight="normal" textLength="133.6" lengthAdjust="spacingAndGlyphs" fill="#333333" >P</text>
<text x="175.3" y="1267.0" font-size="242.74" font-weight="normal" textLength="127.8" lengthAdjust="spacingAndGlyphs" fill="#333333" >R</text><text x="305.2" y="1267.0" font-size="242.74" font-weight="normal" textLength="144.4" lengthAdjust="spacingAndGlyphs" fill="#333333" >T</text><text x="430.8" y="1267.0" font-size="242.74" font-weight="normal" textLength="139.0" lengthAdjust="spacingAndGlyphs" fill="#333333" >A</text>
<text x="2412.4" y="1471.7" font-size="242.74" font-weight="normal" textLength="128.7" lengthAdjust="spacingAndGlyphs" fill="#333333" >E</text><text x="2536.5" y="1471.7" font-size="242.74" font-weight="normal" textLength="145.7" lengthAdjust="spacingAndGlyphs" fill="#333333" >C</text><text x="2676.7" y="1471.7" font-size="242.74" font-weight="normal" textLength="160.7" lengthAdjust="spacingAndGlyphs" fill="#333333" >D</text>
<text x="1303.1" y="2011.8" font-size="242.74" font-weight="normal" textLength="129.1" lengthAdjust="spacingAndGlyphs" fill="#333333" >E</text><text x="1429.9" y="2011.8" font-size="242.74" font-weight="normal" textLength="80.6" lengthAdjust="spacingAndGlyphs" fill="#333333" >t</text><text x="1504.9" y="2011.8" font-size="242.74" font-weight="normal" textLength="111.2" lengthAdjust="spacingAndGlyphs" fill="#333333" >c</text><text x="1612.0" y="2011.8" font-size="242.74" font-weight="normal" textLength="131.3" lengthAdjust="spacingAndGlyphs" fill="#333333" >h</text>
<text x="1905.9" y="176.8" font-size="89.83" font-weight="normal" textLength="264.9" lengthAdjust="spacingAndGlyphs" fill="#333333" >Double</text>
<text x="1859.8" y="278.9" font-size="89.83" font-weight="normal" textLength="382.2" lengthAdjust="spacingAndGlyphs" fill="#333333" >Patterning</text>
<text x="2196.4" y="561.0" font-size="89.83" font-weight="normal" textLength="414.5" lengthAdjust="spacingAndGlyphs" fill="#333333" >Trench Top</text>
<text x="252.3" y="943.9" font-size="89.83" font-weight="normal" textLength="250.1" lengthAdjust="spacingAndGlyphs" fill="#333333" >Device</text>
<text x="110.4" y="1045.6" font-size="89.83" font-weight="normal" textLength="538.5" lengthAdjust="spacingAndGlyphs" fill="#333333" >Characteristics</text>
<text x="2313.3" y="1250.9" font-size="89.83" font-weight="normal" textLength="368.4" lengthAdjust="spacingAndGlyphs" fill="#333333" >Thickness</text>
<text x="2184.3" y="1576.9" font-size="89.83" font-weight="normal" textLength="548.3" lengthAdjust="spacingAndGlyphs" fill="#333333" >Trench Bottom</text>
<text x="315.8" y="1961.1" font-size="89.83" font-weight="normal" textLength="695.8" lengthAdjust="spacingAndGlyphs" fill="#333333" >RTA Multi-layer Fill</text>
<text x="996.8" y="662.8" font-size="90.12" font-weight="normal" textLength="283.6" lengthAdjust="spacingAndGlyphs" fill="#f6f2f2" >Specific</text>
<text x="967.3" y="764.5" font-size="90.12" font-weight="normal" textLength="311.8" lengthAdjust="spacingAndGlyphs" fill="#f6f2f2" >Location</text>
<text x="1604.6" y="662.6" font-size="90.12" font-weight="normal" textLength="275.7" lengthAdjust="spacingAndGlyphs" fill="#f6f2f2" >Density</text>
<text x="875.2" y="1201.6" font-size="89.39" font-weight="bold" textLength="454.0" lengthAdjust="spacingAndGlyphs" fill="#2b2b2b" >Uniformity</text>
<text x="1490.9" y="1199.4" font-size="89.39" font-weight="bold" textLength="423.2" lengthAdjust="spacingAndGlyphs" fill="#2b2b2b" >Perimeter</text>
<text x="2886.6" y="2096.6" font-size="20.35" font-weight="normal" textLength="164.4" lengthAdjust="spacingAndGlyphs" fill="#c6e0c0" >www.cntronics.com</text></svg></body></html>
